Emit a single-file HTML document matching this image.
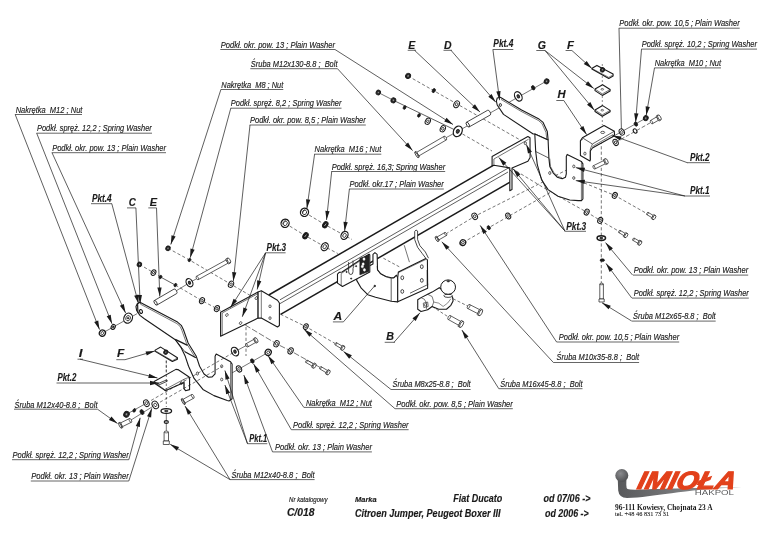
<!DOCTYPE html>
<html><head><meta charset="utf-8"><style>
html,body{margin:0;padding:0;background:#fff;overflow:hidden;}
svg{display:block;will-change:transform;}
</style></head><body>
<svg width="768" height="543" viewBox="0 0 768 543">
<rect width="768" height="543" fill="#fff"/>
<path d="M408 76L525.5 143" stroke="#1a1a1a" stroke-width="0.6" fill="none" stroke-linejoin="round" stroke-dasharray="3.2 2.2"/>
<path d="M393.4 100.3L457.8 131.3" stroke="#1a1a1a" stroke-width="0.7" fill="none" stroke-linejoin="round"/>
<path d="M378.3 92.5L393.4 100.3" stroke="#1a1a1a" stroke-width="0.6" fill="none" stroke-linejoin="round"/>
<path d="M457.8 131.3L492 151" stroke="#1a1a1a" stroke-width="0.6" fill="none" stroke-linejoin="round" stroke-dasharray="3.2 2.2"/>
<path d="M445.3 138.1L457.8 131.3" stroke="#1a1a1a" stroke-width="0.6" fill="none" stroke-linejoin="round"/>
<path d="M457.8 131.3L547 80.8" stroke="#1a1a1a" stroke-width="0.6" fill="none" stroke-linejoin="round"/>
<path d="M168 248.3L189.5 260L231 284.3L252 296.5" stroke="#1a1a1a" stroke-width="0.6" fill="none" stroke-linejoin="round" stroke-dasharray="3.2 2.2"/>
<path d="M189.5 282.7L197.5 278.2" stroke="#1a1a1a" stroke-width="0.6" fill="none" stroke-linejoin="round"/>
<path d="M139.4 264.4L153.5 272.6L160.5 277" stroke="#1a1a1a" stroke-width="0.6" fill="none" stroke-linejoin="round" stroke-dasharray="3.2 2.2"/>
<path d="M160.5 277L175.4 285.1" stroke="#1a1a1a" stroke-width="0.7" fill="none" stroke-linejoin="round"/>
<path d="M175.4 285.1L202 300.7L216.9 308.6L224 312.5" stroke="#1a1a1a" stroke-width="0.6" fill="none" stroke-linejoin="round" stroke-dasharray="3.2 2.2"/>
<path d="M175.4 291.3L189.5 282.7" stroke="#1a1a1a" stroke-width="0.6" fill="none" stroke-linejoin="round"/>
<path d="M245.2 325L276.5 343.8L290.6 350.9L322.7 368.9" stroke="#1a1a1a" stroke-width="0.6" fill="none" stroke-linejoin="round" stroke-dasharray="6 2"/>
<path d="M280.4 314.2L305.8 326.6L336.2 344.1" stroke="#1a1a1a" stroke-width="0.6" fill="none" stroke-linejoin="round" stroke-dasharray="3.2 2.2"/>
<path d="M246 300L246 356" stroke="#1a1a1a" stroke-width="0.6" fill="none" stroke-linejoin="round" stroke-dasharray="3.2 2.2"/>
<path d="M222 378.6L268.2 352.4" stroke="#1a1a1a" stroke-width="0.6" fill="none" stroke-linejoin="round"/>
<path d="M235 351.6L254.6 341" stroke="#1a1a1a" stroke-width="0.6" fill="none" stroke-linejoin="round"/>
<path d="M462.9 242.6L488.8 227.7L574 178.8" stroke="#1a1a1a" stroke-width="0.6" fill="none" stroke-linejoin="round" stroke-dasharray="3.2 2.2"/>
<path d="M445.7 234L474.7 216.3L574 166.3" stroke="#1a1a1a" stroke-width="0.6" fill="none" stroke-linejoin="round" stroke-dasharray="3.2 2.2"/>
<path d="M511.7 168.3L540.8 186L568 201.7L586.7 212.1L600.2 220.4L620 231.9" stroke="#1a1a1a" stroke-width="0.6" fill="none" stroke-linejoin="round" stroke-dasharray="3.2 2.2"/>
<path d="M574 178.8L614.8 195.4L649 214.8" stroke="#1a1a1a" stroke-width="0.6" fill="none" stroke-linejoin="round" stroke-dasharray="3.2 2.2"/>
<path d="M601.3 130L601.3 283" stroke="#1a1a1a" stroke-width="0.6" fill="none" stroke-linejoin="round" stroke-dasharray="3.2 2.2"/>
<path d="M602.3 64L602.3 125" stroke="#1a1a1a" stroke-width="0.5" fill="none" stroke-linejoin="round" stroke-dasharray="2 2"/>
<line x1="268.75" y1="295" x2="495" y2="164.41" stroke="#1a1a1a" stroke-width="1.5"/>
<line x1="280" y1="299.81" x2="508" y2="168.2" stroke="#1a1a1a" stroke-width="0.7"/>
<line x1="280" y1="303.61" x2="508" y2="172" stroke="#1a1a1a" stroke-width="0.7"/>
<line x1="280.6" y1="314.46" x2="510" y2="182.05" stroke="#1a1a1a" stroke-width="1.5"/>
<ellipse cx="408.1" cy="75.9" rx="2.43" ry="2.7" transform="rotate(29 408.1 75.9)" stroke="#1a1a1a" stroke-width="0.9" fill="#222"/>
<ellipse cx="408.1" cy="75.9" rx="1.08" ry="1.22" transform="rotate(29 408.1 75.9)" stroke="#1a1a1a" stroke-width="0.5" fill="#999"/>
<ellipse cx="433.8" cy="90.6" rx="1.5" ry="2.2" transform="rotate(29 433.8 90.6)" stroke="#1a1a1a" stroke-width="0.7" fill="#1a1a1a"/>
<ellipse cx="456.6" cy="104.3" rx="2.6" ry="3.6" transform="rotate(29 456.6 104.3)" stroke="#1a1a1a" stroke-width="1.0" fill="#fff"/>
<ellipse cx="456.6" cy="104.3" rx="1.17" ry="1.62" transform="rotate(29 456.6 104.3)" stroke="#1a1a1a" stroke-width="0.8" fill="#fff"/>
<ellipse cx="393.4" cy="100.3" rx="2.34" ry="2.6" transform="rotate(29 393.4 100.3)" stroke="#1a1a1a" stroke-width="0.9" fill="#222"/>
<ellipse cx="393.4" cy="100.3" rx="1.04" ry="1.17" transform="rotate(29 393.4 100.3)" stroke="#1a1a1a" stroke-width="0.5" fill="#999"/>
<ellipse cx="378.3" cy="92.5" rx="2.16" ry="2.4" transform="rotate(29 378.3 92.5)" stroke="#1a1a1a" stroke-width="0.9" fill="#222"/>
<ellipse cx="378.3" cy="92.5" rx="0.96" ry="1.08" transform="rotate(29 378.3 92.5)" stroke="#1a1a1a" stroke-width="0.5" fill="#999"/>
<ellipse cx="404.6" cy="107.5" rx="1.3" ry="1.9" transform="rotate(29 404.6 107.5)" stroke="#1a1a1a" stroke-width="0.7" fill="#1a1a1a"/>
<ellipse cx="419" cy="115.4" rx="1.3" ry="1.9" transform="rotate(29 419 115.4)" stroke="#1a1a1a" stroke-width="0.7" fill="#1a1a1a"/>
<ellipse cx="427.8" cy="121.3" rx="2.4" ry="3.3" transform="rotate(29 427.8 121.3)" stroke="#1a1a1a" stroke-width="1.0" fill="#fff"/>
<ellipse cx="427.8" cy="121.3" rx="1.08" ry="1.48" transform="rotate(29 427.8 121.3)" stroke="#1a1a1a" stroke-width="0.8" fill="#fff"/>
<ellipse cx="442.8" cy="128.8" rx="2.4" ry="3.3" transform="rotate(29 442.8 128.8)" stroke="#1a1a1a" stroke-width="1.0" fill="#fff"/>
<ellipse cx="442.8" cy="128.8" rx="1.08" ry="1.48" transform="rotate(29 442.8 128.8)" stroke="#1a1a1a" stroke-width="0.8" fill="#fff"/>
<ellipse cx="457.8" cy="131.3" rx="4.2" ry="5.6" transform="rotate(29 457.8 131.3)" stroke="#1a1a1a" stroke-width="1.2" fill="#fff"/>
<ellipse cx="457.8" cy="131.3" rx="1.47" ry="1.96" transform="rotate(29 457.8 131.3)" stroke="#1a1a1a" stroke-width="0.9" fill="#444"/>
<path d="M444.24 136.28L416.74 152.28L418.86 155.92L446.36 139.92Z" stroke="#1a1a1a" stroke-width="0.7" fill="#fff" stroke-linejoin="round"/>
<path d="M416.14 151.25L414.93 151.95L418.25 157.66L419.46 156.95Z" stroke="#1a1a1a" stroke-width="0.7" fill="#fff" stroke-linejoin="round"/>
<ellipse cx="416.59" cy="154.8" rx="0.84" ry="3.3" transform="rotate(149.81 416.59 154.8)" stroke="#1a1a1a" stroke-width="0.7" fill="#fff"/>
<ellipse cx="445.3" cy="138.1" rx="1.05" ry="2.1" transform="rotate(149.81 445.3 138.1)" stroke="#1a1a1a" stroke-width="0.6" fill="#fff"/>
<path d="M469.13 126.95 L490.33 114.95 A1.22 2.7 -29.51 0 0 487.67 110.25 L466.47 122.25 Z" fill="#fff" stroke="#1a1a1a" stroke-width="0.8"/>
<ellipse cx="467.8" cy="124.6" rx="1.22" ry="2.7" transform="rotate(-29.51 467.8 124.6)" stroke="#1a1a1a" stroke-width="0.8" fill="#fff"/>
<ellipse cx="518.3" cy="96.4" rx="3.4" ry="5" transform="rotate(-29 518.3 96.4)" stroke="#1a1a1a" stroke-width="1.2" fill="#fff"/>
<ellipse cx="518.3" cy="96.4" rx="1.19" ry="1.75" transform="rotate(-29 518.3 96.4)" stroke="#1a1a1a" stroke-width="0.9" fill="#444"/>
<ellipse cx="533.2" cy="87.8" rx="1.6" ry="2.3" transform="rotate(-29 533.2 87.8)" stroke="#1a1a1a" stroke-width="0.7" fill="#1a1a1a"/>
<ellipse cx="546.6" cy="81.3" rx="2.34" ry="2.6" transform="rotate(29 546.6 81.3)" stroke="#1a1a1a" stroke-width="0.9" fill="#222"/>
<ellipse cx="546.6" cy="81.3" rx="1.04" ry="1.17" transform="rotate(29 546.6 81.3)" stroke="#1a1a1a" stroke-width="0.5" fill="#999"/>
<ellipse cx="168" cy="248.3" rx="2.16" ry="2.4" transform="rotate(29 168 248.3)" stroke="#1a1a1a" stroke-width="0.9" fill="#222"/>
<ellipse cx="168" cy="248.3" rx="0.96" ry="1.08" transform="rotate(29 168 248.3)" stroke="#1a1a1a" stroke-width="0.5" fill="#999"/>
<ellipse cx="189.5" cy="260" rx="1.3" ry="1.8" transform="rotate(29 189.5 260)" stroke="#1a1a1a" stroke-width="0.7" fill="#1a1a1a"/>
<ellipse cx="231" cy="284.3" rx="2.4" ry="3.3" transform="rotate(29 231 284.3)" stroke="#1a1a1a" stroke-width="1.0" fill="#fff"/>
<ellipse cx="231" cy="284.3" rx="1.08" ry="1.48" transform="rotate(29 231 284.3)" stroke="#1a1a1a" stroke-width="0.8" fill="#fff"/>
<path d="M198.22 279.66L227.92 263.26L226.08 259.94L196.38 276.34Z" stroke="#1a1a1a" stroke-width="0.7" fill="#fff" stroke-linejoin="round"/>
<path d="M228.35 264.05L230.28 262.99L227.57 258.09L225.65 259.15Z" stroke="#1a1a1a" stroke-width="0.7" fill="#fff" stroke-linejoin="round"/>
<ellipse cx="228.93" cy="260.54" rx="1.32" ry="2.8" transform="rotate(-28.91 228.93 260.54)" stroke="#1a1a1a" stroke-width="0.7" fill="#fff"/>
<ellipse cx="197.3" cy="278" rx="0.95" ry="1.9" transform="rotate(-28.91 197.3 278)" stroke="#1a1a1a" stroke-width="0.6" fill="#fff"/>
<ellipse cx="189.5" cy="282.7" rx="3.1" ry="4.4" transform="rotate(-29 189.5 282.7)" stroke="#1a1a1a" stroke-width="1.2" fill="#fff"/>
<ellipse cx="189.5" cy="282.7" rx="1.08" ry="1.54" transform="rotate(-29 189.5 282.7)" stroke="#1a1a1a" stroke-width="0.9" fill="#444"/>
<ellipse cx="139.4" cy="264.4" rx="2.16" ry="2.4" transform="rotate(29 139.4 264.4)" stroke="#1a1a1a" stroke-width="0.9" fill="#222"/>
<ellipse cx="139.4" cy="264.4" rx="0.96" ry="1.08" transform="rotate(29 139.4 264.4)" stroke="#1a1a1a" stroke-width="0.5" fill="#999"/>
<ellipse cx="153.5" cy="272.6" rx="2.2" ry="3" transform="rotate(29 153.5 272.6)" stroke="#1a1a1a" stroke-width="1.0" fill="#fff"/>
<ellipse cx="153.5" cy="272.6" rx="0.99" ry="1.35" transform="rotate(29 153.5 272.6)" stroke="#1a1a1a" stroke-width="0.8" fill="#fff"/>
<ellipse cx="160.5" cy="277" rx="1.3" ry="1.8" transform="rotate(29 160.5 277)" stroke="#1a1a1a" stroke-width="0.7" fill="#1a1a1a"/>
<ellipse cx="175.4" cy="285.1" rx="1.3" ry="1.8" transform="rotate(29 175.4 285.1)" stroke="#1a1a1a" stroke-width="0.7" fill="#1a1a1a"/>
<ellipse cx="202" cy="300.7" rx="2.3" ry="3.2" transform="rotate(29 202 300.7)" stroke="#1a1a1a" stroke-width="1.0" fill="#fff"/>
<ellipse cx="202" cy="300.7" rx="1.03" ry="1.44" transform="rotate(29 202 300.7)" stroke="#1a1a1a" stroke-width="0.8" fill="#fff"/>
<ellipse cx="216.9" cy="308.6" rx="2.3" ry="3.2" transform="rotate(29 216.9 308.6)" stroke="#1a1a1a" stroke-width="1.0" fill="#fff"/>
<ellipse cx="216.9" cy="308.6" rx="1.03" ry="1.44" transform="rotate(29 216.9 308.6)" stroke="#1a1a1a" stroke-width="0.8" fill="#fff"/>
<path d="M156.91 305.05 L176.71 293.55 A1.17 2.6 -30.15 0 0 174.09 289.05 L154.29 300.55 Z" fill="#fff" stroke="#1a1a1a" stroke-width="0.8"/>
<ellipse cx="155.6" cy="302.8" rx="1.17" ry="2.6" transform="rotate(-30.15 155.6 302.8)" stroke="#1a1a1a" stroke-width="0.8" fill="#fff"/>
<ellipse cx="276.5" cy="343.8" rx="2.4" ry="3.3" transform="rotate(29 276.5 343.8)" stroke="#1a1a1a" stroke-width="1.0" fill="#fff"/>
<ellipse cx="276.5" cy="343.8" rx="1.08" ry="1.48" transform="rotate(29 276.5 343.8)" stroke="#1a1a1a" stroke-width="0.8" fill="#fff"/>
<ellipse cx="290.6" cy="350.9" rx="2.4" ry="3.3" transform="rotate(29 290.6 350.9)" stroke="#1a1a1a" stroke-width="1.0" fill="#fff"/>
<ellipse cx="290.6" cy="350.9" rx="1.08" ry="1.48" transform="rotate(29 290.6 350.9)" stroke="#1a1a1a" stroke-width="0.8" fill="#fff"/>
<path d="M305.84 362.42L312.14 366.12L313.46 363.88L307.16 360.18Z" stroke="#1a1a1a" stroke-width="0.7" fill="#fff" stroke-linejoin="round"/>
<path d="M311.53 367.16L313.26 368.17L315.79 363.86L314.07 362.84Z" stroke="#1a1a1a" stroke-width="0.7" fill="#fff" stroke-linejoin="round"/>
<ellipse cx="314.52" cy="366.01" rx="1.2" ry="2.5" transform="rotate(30.43 314.52 366.01)" stroke="#1a1a1a" stroke-width="0.7" fill="#fff"/>
<ellipse cx="306.5" cy="361.3" rx="0.65" ry="1.3" transform="rotate(30.43 306.5 361.3)" stroke="#1a1a1a" stroke-width="0.6" fill="#fff"/>
<path d="M319.83 368.91L326.13 372.71L327.47 370.49L321.17 366.69Z" stroke="#1a1a1a" stroke-width="0.7" fill="#fff" stroke-linejoin="round"/>
<path d="M325.51 373.74L327.22 374.77L329.8 370.49L328.09 369.46Z" stroke="#1a1a1a" stroke-width="0.7" fill="#fff" stroke-linejoin="round"/>
<ellipse cx="328.51" cy="372.63" rx="1.2" ry="2.5" transform="rotate(31.1 328.51 372.63)" stroke="#1a1a1a" stroke-width="0.7" fill="#fff"/>
<ellipse cx="320.5" cy="367.8" rx="0.65" ry="1.3" transform="rotate(31.1 320.5 367.8)" stroke="#1a1a1a" stroke-width="0.6" fill="#fff"/>
<ellipse cx="305.8" cy="326.6" rx="2.2" ry="3" transform="rotate(29 305.8 326.6)" stroke="#1a1a1a" stroke-width="1.0" fill="#fff"/>
<ellipse cx="305.8" cy="326.6" rx="0.99" ry="1.35" transform="rotate(29 305.8 326.6)" stroke="#1a1a1a" stroke-width="0.8" fill="#fff"/>
<path d="M335.13 344.92L340.83 348.32L342.17 346.08L336.47 342.68Z" stroke="#1a1a1a" stroke-width="0.7" fill="#fff" stroke-linejoin="round"/>
<path d="M340.27 349.26L341.99 350.29L344.45 346.16L342.73 345.14Z" stroke="#1a1a1a" stroke-width="0.7" fill="#fff" stroke-linejoin="round"/>
<ellipse cx="343.22" cy="348.22" rx="1.2" ry="2.4" transform="rotate(30.82 343.22 348.22)" stroke="#1a1a1a" stroke-width="0.7" fill="#fff"/>
<ellipse cx="335.8" cy="343.8" rx="0.65" ry="1.3" transform="rotate(30.82 335.8 343.8)" stroke="#1a1a1a" stroke-width="0.6" fill="#fff"/>
<path d="M247.68 346.97L255.48 342.57L253.72 339.43L245.92 343.83Z" stroke="#1a1a1a" stroke-width="0.7" fill="#fff" stroke-linejoin="round"/>
<path d="M255.88 343.26L257.62 342.28L255.06 337.75L253.32 338.74Z" stroke="#1a1a1a" stroke-width="0.7" fill="#fff" stroke-linejoin="round"/>
<ellipse cx="256.34" cy="340.02" rx="1.2" ry="2.6" transform="rotate(-29.43 256.34 340.02)" stroke="#1a1a1a" stroke-width="0.7" fill="#fff"/>
<ellipse cx="246.8" cy="345.4" rx="0.9" ry="1.8" transform="rotate(-29.43 246.8 345.4)" stroke="#1a1a1a" stroke-width="0.6" fill="#fff"/>
<ellipse cx="235" cy="351.6" rx="3.3" ry="4.6" transform="rotate(-29 235 351.6)" stroke="#1a1a1a" stroke-width="1.2" fill="#fff"/>
<ellipse cx="235" cy="351.6" rx="1.15" ry="1.61" transform="rotate(-29 235 351.6)" stroke="#1a1a1a" stroke-width="0.9" fill="#444"/>
<ellipse cx="239" cy="368.9" rx="2.4" ry="3.3" transform="rotate(-29 239 368.9)" stroke="#1a1a1a" stroke-width="1.0" fill="#fff"/>
<ellipse cx="239" cy="368.9" rx="1.08" ry="1.48" transform="rotate(-29 239 368.9)" stroke="#1a1a1a" stroke-width="0.8" fill="#fff"/>
<ellipse cx="252.3" cy="361" rx="1.6" ry="2.3" transform="rotate(-29 252.3 361)" stroke="#1a1a1a" stroke-width="0.7" fill="#1a1a1a"/>
<ellipse cx="268.2" cy="352.4" rx="3" ry="3.15" transform="rotate(30 268.2 352.4)" stroke="#1a1a1a" stroke-width="1.3" fill="#fff"/>
<ellipse cx="268.2" cy="352.4" rx="1.35" ry="1.5" transform="rotate(30 268.2 352.4)" stroke="#1a1a1a" stroke-width="0.8" fill="#fff"/>
<ellipse cx="474.7" cy="216.3" rx="2.6" ry="3.4" transform="rotate(-29 474.7 216.3)" stroke="#1a1a1a" stroke-width="1.0" fill="#fff"/>
<ellipse cx="474.7" cy="216.3" rx="1.17" ry="1.53" transform="rotate(-29 474.7 216.3)" stroke="#1a1a1a" stroke-width="0.8" fill="#fff"/>
<ellipse cx="462.9" cy="242.6" rx="2.8" ry="2.94" transform="rotate(30 462.9 242.6)" stroke="#1a1a1a" stroke-width="1.3" fill="#fff"/>
<ellipse cx="462.9" cy="242.6" rx="1.26" ry="1.4" transform="rotate(30 462.9 242.6)" stroke="#1a1a1a" stroke-width="0.8" fill="#fff"/>
<ellipse cx="508.2" cy="216" rx="2.3" ry="3.1" transform="rotate(-29 508.2 216)" stroke="#1a1a1a" stroke-width="1.0" fill="#fff"/>
<ellipse cx="508.2" cy="216" rx="1.03" ry="1.4" transform="rotate(-29 508.2 216)" stroke="#1a1a1a" stroke-width="0.8" fill="#fff"/>
<ellipse cx="488.8" cy="227.7" rx="1.5" ry="2.1" transform="rotate(-29 488.8 227.7)" stroke="#1a1a1a" stroke-width="0.7" fill="#1a1a1a"/>
<path d="M444.86 232.52L437.16 236.92L438.84 239.88L446.54 235.48Z" stroke="#1a1a1a" stroke-width="0.7" fill="#fff" stroke-linejoin="round"/>
<path d="M436.71 236.14L435.41 236.89L437.99 241.4L439.29 240.66Z" stroke="#1a1a1a" stroke-width="0.7" fill="#fff" stroke-linejoin="round"/>
<ellipse cx="436.7" cy="239.14" rx="0.9" ry="2.6" transform="rotate(150.26 436.7 239.14)" stroke="#1a1a1a" stroke-width="0.7" fill="#fff"/>
<ellipse cx="445.7" cy="234" rx="0.85" ry="1.7" transform="rotate(150.26 445.7 234)" stroke="#1a1a1a" stroke-width="0.6" fill="#fff"/>
<ellipse cx="586.7" cy="212.1" rx="2.3" ry="3.1" transform="rotate(29 586.7 212.1)" stroke="#1a1a1a" stroke-width="1.0" fill="#fff"/>
<ellipse cx="586.7" cy="212.1" rx="1.03" ry="1.4" transform="rotate(29 586.7 212.1)" stroke="#1a1a1a" stroke-width="0.8" fill="#fff"/>
<ellipse cx="600.2" cy="220.4" rx="2.3" ry="3.1" transform="rotate(29 600.2 220.4)" stroke="#1a1a1a" stroke-width="1.0" fill="#fff"/>
<ellipse cx="600.2" cy="220.4" rx="1.03" ry="1.4" transform="rotate(29 600.2 220.4)" stroke="#1a1a1a" stroke-width="0.8" fill="#fff"/>
<ellipse cx="614.8" cy="195.4" rx="2.3" ry="3.1" transform="rotate(29 614.8 195.4)" stroke="#1a1a1a" stroke-width="1.0" fill="#fff"/>
<ellipse cx="614.8" cy="195.4" rx="1.03" ry="1.4" transform="rotate(29 614.8 195.4)" stroke="#1a1a1a" stroke-width="0.8" fill="#fff"/>
<path d="M618.83 232.61L623.83 235.61L625.17 233.39L620.17 230.39Z" stroke="#1a1a1a" stroke-width="0.7" fill="#fff" stroke-linejoin="round"/>
<path d="M623.27 236.56L624.98 237.59L627.45 233.47L625.73 232.44Z" stroke="#1a1a1a" stroke-width="0.7" fill="#fff" stroke-linejoin="round"/>
<ellipse cx="626.21" cy="235.53" rx="1.2" ry="2.4" transform="rotate(30.96 626.21 235.53)" stroke="#1a1a1a" stroke-width="0.7" fill="#fff"/>
<ellipse cx="619.5" cy="231.5" rx="0.65" ry="1.3" transform="rotate(30.96 619.5 231.5)" stroke="#1a1a1a" stroke-width="0.6" fill="#fff"/>
<path d="M632.85 240.32L637.85 243.22L639.15 240.98L634.15 238.08Z" stroke="#1a1a1a" stroke-width="0.7" fill="#fff" stroke-linejoin="round"/>
<path d="M637.3 244.18L639.03 245.18L641.43 241.03L639.7 240.02Z" stroke="#1a1a1a" stroke-width="0.7" fill="#fff" stroke-linejoin="round"/>
<ellipse cx="640.23" cy="243.1" rx="1.2" ry="2.4" transform="rotate(30.11 640.23 243.1)" stroke="#1a1a1a" stroke-width="0.7" fill="#fff"/>
<ellipse cx="633.5" cy="239.2" rx="0.65" ry="1.3" transform="rotate(30.11 633.5 239.2)" stroke="#1a1a1a" stroke-width="0.6" fill="#fff"/>
<path d="M646.83 214.61L651.83 217.61L653.17 215.39L648.17 212.39Z" stroke="#1a1a1a" stroke-width="0.7" fill="#fff" stroke-linejoin="round"/>
<path d="M651.27 218.56L652.98 219.59L655.45 215.47L653.73 214.44Z" stroke="#1a1a1a" stroke-width="0.7" fill="#fff" stroke-linejoin="round"/>
<ellipse cx="654.21" cy="217.53" rx="1.2" ry="2.4" transform="rotate(30.96 654.21 217.53)" stroke="#1a1a1a" stroke-width="0.7" fill="#fff"/>
<ellipse cx="647.5" cy="213.5" rx="0.65" ry="1.3" transform="rotate(30.96 647.5 213.5)" stroke="#1a1a1a" stroke-width="0.6" fill="#fff"/>
<ellipse cx="601.3" cy="238.1" rx="4.2" ry="2.3" transform="rotate(0 601.3 238.1)" stroke="#1a1a1a" stroke-width="1.6" fill="#fff"/>
<ellipse cx="601.3" cy="238.1" rx="1.5" ry="0.8" transform="rotate(0 601.3 238.1)" stroke="#1a1a1a" stroke-width="0.9" fill="#444"/>
<ellipse cx="602.3" cy="260.2" rx="2.2" ry="1.4" transform="rotate(0 602.3 260.2)" stroke="#1a1a1a" stroke-width="0.6" fill="#1a1a1a"/>
<path d="M599.8 284L599.8 299L603.4 299L603.4 284Z" stroke="#1a1a1a" stroke-width="0.7" fill="#fff" stroke-linejoin="round"/>
<ellipse cx="601.6" cy="284" rx="1.8" ry="0.8" transform="rotate(0 601.6 284)" stroke="#1a1a1a" stroke-width="0.6" fill="#fff"/>
<path d="M599 299L599 302L604.2 302L604.2 299Z" stroke="#1a1a1a" stroke-width="0.7" fill="#fff" stroke-linejoin="round"/>
<path d="M258.1 291.9L220.6 312.2L220.6 336.3L258.1 318.1Z" stroke="#1a1a1a" stroke-width="1.1" fill="#fff" stroke-linejoin="round"/>
<path d="M258.1 293.5L222.2 313L222.2 336" stroke="#1a1a1a" stroke-width="0.6" fill="none" stroke-linejoin="round"/>
<path d="M258.1 291.9L261.3 290.8L277.5 300.3L279.4 303L279.4 325.5L277.5 327L261.3 318.1L258.1 318.1Z" stroke="#1a1a1a" stroke-width="1.1" fill="#fff" stroke-linejoin="round"/>
<path d="M261.3 290.8L261.3 318.1" stroke="#1a1a1a" stroke-width="0.6" fill="none" stroke-linejoin="round"/>
<ellipse cx="270" cy="306.3" rx="1.1" ry="1.4" transform="rotate(0 270 306.3)" stroke="#1a1a1a" stroke-width="0.7" fill="none"/>
<ellipse cx="270" cy="318.1" rx="1.1" ry="1.4" transform="rotate(0 270 318.1)" stroke="#1a1a1a" stroke-width="0.7" fill="none"/>
<ellipse cx="226.9" cy="315" rx="1.1" ry="1.5" transform="rotate(29 226.9 315)" stroke="#1a1a1a" stroke-width="0.7" fill="none"/>
<ellipse cx="240.6" cy="323.1" rx="1.1" ry="1.5" transform="rotate(29 240.6 323.1)" stroke="#1a1a1a" stroke-width="0.7" fill="none"/>
<ellipse cx="256.3" cy="298.1" rx="1.1" ry="1.5" transform="rotate(29 256.3 298.1)" stroke="#1a1a1a" stroke-width="0.7" fill="none"/>
<path d="M492.1 156.4L527.9 136.5L530 137.8L530.1 157.5L527.9 161.3L512 167.9L512 189.6L509.8 190.7L509.8 167.9L493.9 165.3L492.1 165.7Z" stroke="#1a1a1a" stroke-width="1.1" fill="#fff" stroke-linejoin="round"/>
<path d="M493.9 159L528.6 139.2" stroke="#1a1a1a" stroke-width="0.6" fill="none" stroke-linejoin="round"/>
<path d="M493.9 159L493.9 165.3" stroke="#1a1a1a" stroke-width="0.6" fill="none" stroke-linejoin="round"/>
<ellipse cx="525.3" cy="143.2" rx="1.1" ry="1.5" transform="rotate(0 525.3 143.2)" stroke="#1a1a1a" stroke-width="0.7" fill="none"/>
<path d="M497.2 98L500.3 97.2L521.6 110L539 119.1L543.1 122.4L547.3 131.6L548.1 139.9L534.8 134L533.2 134L503.5 114.4L497.2 105L496.4 101.1Z" stroke="#1a1a1a" stroke-width="1.1" fill="#fff" stroke-linejoin="round"/>
<path d="M501 99.4L521 111.3L538.3 120.4L542 123.6L546 132.5L546.8 139.3" stroke="#1a1a1a" stroke-width="0.6" fill="none" stroke-linejoin="round"/>
<ellipse cx="500.3" cy="105" rx="1.1" ry="1.5" transform="rotate(0 500.3 105)" stroke="#1a1a1a" stroke-width="0.9" fill="none"/>
<path d="M534.8 134L548.1 139.9L548.9 158.1L549.8 166.4L553.1 172.8L557.2 177.2L562.2 178.8L565.5 177.2L566.3 173.8L566.3 156.4L567.2 154.4L581.3 161.4L582.9 163.9L582.9 199L581.5 200.6L578.3 200.6L569.7 200L558 196.2L548.1 189.6L541.5 179.7L537.3 164.7L535.7 151.5Z" stroke="#1a1a1a" stroke-width="1.1" fill="#fff" stroke-linejoin="round"/>
<path d="M535.7 151.5L548.9 158.1" stroke="#1a1a1a" stroke-width="0.7" fill="none" stroke-linejoin="round"/>
<path d="M549.8 158.6L550.6 166.6L553.8 172.4L557.6 176.3L562 177.7" stroke="#1a1a1a" stroke-width="0.5" fill="none" stroke-linejoin="round"/>
<path d="M581.4 162.5L581.4 200" stroke="#1a1a1a" stroke-width="0.6" fill="none" stroke-linejoin="round"/>
<ellipse cx="573.8" cy="166.4" rx="1.1" ry="1.4" transform="rotate(0 573.8 166.4)" stroke="#1a1a1a" stroke-width="0.7" fill="none"/>
<ellipse cx="573.8" cy="178" rx="1.1" ry="1.4" transform="rotate(0 573.8 178)" stroke="#1a1a1a" stroke-width="0.7" fill="none"/>
<ellipse cx="549.8" cy="173" rx="1.1" ry="1.5" transform="rotate(0 549.8 173)" stroke="#1a1a1a" stroke-width="0.7" fill="none"/>
<path d="M582.4 137.8L604 125.4L614.3 131.2L614.5 134.5L613.1 136.6L592.4 148L590.3 151L590.3 160L589.9 161L580.4 155.6L580.4 140.7Z" stroke="#1a1a1a" stroke-width="1.1" fill="#fff" stroke-linejoin="round"/>
<path d="M580.4 140.7L583.5 138.5L592.4 144L614.3 131.2" stroke="#1a1a1a" stroke-width="0.7" fill="none" stroke-linejoin="round"/>
<path d="M592.4 144L590.3 149L590.3 160" stroke="#1a1a1a" stroke-width="0.6" fill="none" stroke-linejoin="round"/>
<path d="M592.4 146.5L613.1 134.5" stroke="#1a1a1a" stroke-width="0.6" fill="none" stroke-linejoin="round"/>
<ellipse cx="584.9" cy="153.6" rx="1.1" ry="1.5" transform="rotate(0 584.9 153.6)" stroke="#1a1a1a" stroke-width="0.7" fill="none"/>
<ellipse cx="602.7" cy="132.4" rx="2" ry="1.1" transform="rotate(0 602.7 132.4)" stroke="#1a1a1a" stroke-width="0.7" fill="none"/>
<path d="M137.29 303.7L139.94 302.15L177.51 322.04L181.27 325.36L183.48 329.78L188.12 343.04L196.3 356.3L199.61 366.24L204.03 373.98L208.45 377.29L212.21 376.85L215.08 373.98L215.08 356.3L216.19 354.09L230.55 361.82L232.1 364.03L232.1 398.73L229.01 400.94L227.24 400.5L213.98 395.64L202.93 389.45L194.09 378.4L188.56 366.24L185.25 356.3L181.27 347.9L175.3 339.72L144.36 318.73L139.94 315.41L136.63 310.33L135.97 306.57Z" stroke="#1a1a1a" stroke-width="1.1" fill="#fff" stroke-linejoin="round"/>
<path d="M140.39 304.14L176.85 323.59L180.17 326.46L181.93 330.44L186.57 343.48L194.75 356.74" stroke="#1a1a1a" stroke-width="0.6" fill="none" stroke-linejoin="round"/>
<path d="M175.2 339.4L187.6 345.4" stroke="#1a1a1a" stroke-width="1.2" fill="none" stroke-linejoin="round"/>
<path d="M184.9 351.8L195.9 357.8" stroke="#1a1a1a" stroke-width="1.2" fill="none" stroke-linejoin="round"/>
<path d="M175.2 339.4L184.9 351.8" stroke="#1a1a1a" stroke-width="0.8" fill="none" stroke-linejoin="round"/>
<path d="M230.55 362.93L230.55 399.39" stroke="#1a1a1a" stroke-width="0.6" fill="none" stroke-linejoin="round"/>
<path d="M215.08 356.3L230.55 364.03" stroke="#1a1a1a" stroke-width="0.0" fill="none" stroke-linejoin="round"/>
<ellipse cx="221.71" cy="366.24" rx="1.1" ry="1.4" transform="rotate(0 221.71 366.24)" stroke="#1a1a1a" stroke-width="0.7" fill="none"/>
<ellipse cx="221.71" cy="379.5" rx="1.1" ry="1.4" transform="rotate(0 221.71 379.5)" stroke="#1a1a1a" stroke-width="0.7" fill="none"/>
<ellipse cx="197.4" cy="373.54" rx="1.1" ry="1.6" transform="rotate(0 197.4 373.54)" stroke="#1a1a1a" stroke-width="0.7" fill="none"/>
<ellipse cx="141" cy="311.5" rx="1.4" ry="2" transform="rotate(-20 141 311.5)" stroke="#1a1a1a" stroke-width="1.1" fill="none"/>
<path d="M137.6 303.5L137.9 312.8" stroke="#1a1a1a" stroke-width="1.2" fill="none" stroke-linejoin="round"/>
<path d="M154.12 381.54L175.9 369.38L177.93 369.58L189.07 376.98L189.58 377.99L189.58 389.65L185.53 390.66L184.01 388.63L184.01 382.55L165.26 390.66L164.25 389.85L154.12 383.06Z" stroke="#1a1a1a" stroke-width="1.1" fill="#fff" stroke-linejoin="round"/>
<path d="M154.12 382.05L164.76 389.65L184.51 379.01L189.07 377.28" stroke="#1a1a1a" stroke-width="0.6" fill="none" stroke-linejoin="round"/>
<path d="M164.76 389.65L164.76 390.66" stroke="#1a1a1a" stroke-width="0.5" fill="none" stroke-linejoin="round"/>
<path d="M184.01 379.01L184.01 388.63" stroke="#1a1a1a" stroke-width="0.5" fill="none" stroke-linejoin="round"/>
<path d="M157.5 383.8 L166 380.2 Q167.6 379.8 167.3 381.2 L159 384.9 Q157 385.4 157.5 383.8 Z" stroke="#1a1a1a" stroke-width="0.8" fill="#fff" stroke-linejoin="round" stroke-linecap="round"/>
<ellipse cx="181.47" cy="383.06" rx="1" ry="1.4" transform="rotate(0 181.47 383.06)" stroke="#1a1a1a" stroke-width="0.7" fill="none"/>
<path d="M155.13 350.13L160.7 347.09L177.42 357.73L177.42 359.25L172.36 361.48L155.13 351.35Z" stroke="#1a1a1a" stroke-width="1.1" fill="#fff" stroke-linejoin="round"/>
<path d="M155.13 350.64L172.36 360.77L177.42 358.03" stroke="#1a1a1a" stroke-width="0.6" fill="none" stroke-linejoin="round"/>
<ellipse cx="165.77" cy="352.16" rx="1.98" ry="2.2" transform="rotate(29 165.77 352.16)" stroke="#1a1a1a" stroke-width="0.9" fill="#222"/>
<ellipse cx="165.77" cy="352.16" rx="0.88" ry="0.99" transform="rotate(29 165.77 352.16)" stroke="#1a1a1a" stroke-width="0.5" fill="#999"/>
<path d="M166.28 360.26L166.28 373.43" stroke="#1a1a1a" stroke-width="0.6" fill="none" stroke-linejoin="round" stroke-dasharray="2.5 2"/>
<path d="M304.5 212.3L325.3 224.8L344.5 235.4L352 239.5" stroke="#1a1a1a" stroke-width="0.6" fill="none" stroke-linejoin="round" stroke-dasharray="3.2 2.2"/>
<path d="M285.1 223.3L305.5 235.8L324.7 246.7L337.8 253.5" stroke="#1a1a1a" stroke-width="0.6" fill="none" stroke-linejoin="round" stroke-dasharray="3.2 2.2"/>
<ellipse cx="304.5" cy="212.3" rx="3.99" ry="4.2" transform="rotate(30 304.5 212.3)" stroke="#1a1a1a" stroke-width="1.3" fill="#fff"/>
<ellipse cx="304.5" cy="212.3" rx="2.1" ry="2.31" transform="rotate(30 304.5 212.3)" stroke="#1a1a1a" stroke-width="0.8" fill="#fff"/>
<line x1="302.4" y1="213.14" x2="304.92" y2="209.36" stroke="#1a1a1a" stroke-width="0.6"/>
<ellipse cx="325.3" cy="224.8" rx="2.4" ry="3.4" transform="rotate(32 325.3 224.8)" stroke="#1a1a1a" stroke-width="0.9" fill="#1a1a1a"/>
<line x1="324.4" y1="226" x2="326.2" y2="223.6" stroke="#fff" stroke-width="0.6"/>
<ellipse cx="344.5" cy="235.4" rx="3.3" ry="4.2" transform="rotate(32 344.5 235.4)" stroke="#1a1a1a" stroke-width="1.2" fill="#fff"/>
<ellipse cx="344.5" cy="235.4" rx="1.6" ry="2.1" transform="rotate(32 344.5 235.4)" stroke="#1a1a1a" stroke-width="0.8" fill="#fff"/>
<ellipse cx="285.1" cy="223.3" rx="3.99" ry="4.2" transform="rotate(30 285.1 223.3)" stroke="#1a1a1a" stroke-width="1.3" fill="#fff"/>
<ellipse cx="285.1" cy="223.3" rx="2.1" ry="2.31" transform="rotate(30 285.1 223.3)" stroke="#1a1a1a" stroke-width="0.8" fill="#fff"/>
<line x1="283" y1="224.14" x2="285.52" y2="220.36" stroke="#1a1a1a" stroke-width="0.6"/>
<ellipse cx="305.5" cy="235.8" rx="2.4" ry="3.4" transform="rotate(32 305.5 235.8)" stroke="#1a1a1a" stroke-width="0.9" fill="#1a1a1a"/>
<line x1="304.6" y1="237" x2="306.4" y2="234.6" stroke="#fff" stroke-width="0.6"/>
<ellipse cx="324.7" cy="246.7" rx="3.3" ry="4.2" transform="rotate(32 324.7 246.7)" stroke="#1a1a1a" stroke-width="1.2" fill="#fff"/>
<ellipse cx="324.7" cy="246.7" rx="1.6" ry="2.1" transform="rotate(32 324.7 246.7)" stroke="#1a1a1a" stroke-width="0.8" fill="#fff"/>
<path d="M592.5 67.9L596.9 65.4L613.1 74.1L613.1 76L608.75 78.5L591.9 69.1Z" stroke="#1a1a1a" stroke-width="1.1" fill="#fff" stroke-linejoin="round"/>
<path d="M592 68.5L608.75 77.3L613 74.8" stroke="#1a1a1a" stroke-width="0.5" fill="none" stroke-linejoin="round"/>
<ellipse cx="602.5" cy="69.8" rx="2.07" ry="2.3" transform="rotate(29 602.5 69.8)" stroke="#1a1a1a" stroke-width="0.9" fill="#222"/>
<ellipse cx="602.5" cy="69.8" rx="0.92" ry="1.03" transform="rotate(29 602.5 69.8)" stroke="#1a1a1a" stroke-width="0.5" fill="#999"/>
<path d="M595 89.1L602.6 84.7L610.1 89.5L610.1 90.9L602.3 95.4L595 90.6Z" stroke="#1a1a1a" stroke-width="1.1" fill="#fff" stroke-linejoin="round"/>
<path d="M595 89.1L602.3 93.9L610.1 89.5" stroke="#1a1a1a" stroke-width="0.6" fill="none" stroke-linejoin="round"/>
<ellipse cx="602.3" cy="89.3" rx="1.3" ry="0.8" transform="rotate(0 602.3 89.3)" stroke="#1a1a1a" stroke-width="0.6" fill="none"/>
<path d="M595 110L602.6 105.6L610.1 110.4L610.1 111.8L602.3 116.3L595 111.5Z" stroke="#1a1a1a" stroke-width="1.1" fill="#fff" stroke-linejoin="round"/>
<path d="M595 110L602.3 114.8L610.1 110.4" stroke="#1a1a1a" stroke-width="0.6" fill="none" stroke-linejoin="round"/>
<ellipse cx="602.3" cy="110.2" rx="1.3" ry="0.8" transform="rotate(0 602.3 110.2)" stroke="#1a1a1a" stroke-width="0.6" fill="none"/>
<path d="M612 137L645.8 118.2" stroke="#1a1a1a" stroke-width="0.6" fill="none" stroke-linejoin="round"/>
<path d="M615.6 142.4L651.5 122.1" stroke="#1a1a1a" stroke-width="0.6" fill="none" stroke-linejoin="round" stroke-dasharray="4 2"/>
<ellipse cx="621.8" cy="132" rx="2.4" ry="3.3" transform="rotate(-29 621.8 132)" stroke="#1a1a1a" stroke-width="1.0" fill="#fff"/>
<ellipse cx="621.8" cy="132" rx="1.08" ry="1.48" transform="rotate(-29 621.8 132)" stroke="#1a1a1a" stroke-width="0.8" fill="#fff"/>
<ellipse cx="635.9" cy="124.1" rx="1.6" ry="2.2" transform="rotate(-29 635.9 124.1)" stroke="#1a1a1a" stroke-width="0.7" fill="#1a1a1a"/>
<ellipse cx="645.8" cy="118.2" rx="2.34" ry="2.6" transform="rotate(29 645.8 118.2)" stroke="#1a1a1a" stroke-width="0.9" fill="#222"/>
<ellipse cx="645.8" cy="118.2" rx="1.04" ry="1.17" transform="rotate(29 645.8 118.2)" stroke="#1a1a1a" stroke-width="0.5" fill="#999"/>
<ellipse cx="615.6" cy="142.4" rx="2.4" ry="3.3" transform="rotate(-29 615.6 142.4)" stroke="#1a1a1a" stroke-width="1.0" fill="#fff"/>
<ellipse cx="615.6" cy="142.4" rx="1.08" ry="1.48" transform="rotate(-29 615.6 142.4)" stroke="#1a1a1a" stroke-width="0.8" fill="#fff"/>
<ellipse cx="635.1" cy="131" rx="1.7" ry="2.3" transform="rotate(-29 635.1 131)" stroke="#1a1a1a" stroke-width="1.1" fill="#fff"/>
<path d="M652.46 123.74L658.46 120.24L656.54 116.96L650.54 120.46Z" stroke="#1a1a1a" stroke-width="0.7" fill="#fff" stroke-linejoin="round"/>
<path d="M658.96 121.1L660.86 120L657.94 114.99L656.04 116.1Z" stroke="#1a1a1a" stroke-width="0.7" fill="#fff" stroke-linejoin="round"/>
<ellipse cx="659.4" cy="117.49" rx="1.32" ry="2.9" transform="rotate(-30.26 659.4 117.49)" stroke="#1a1a1a" stroke-width="0.7" fill="#fff"/>
<ellipse cx="651.5" cy="122.1" rx="0.95" ry="1.9" transform="rotate(-30.26 651.5 122.1)" stroke="#1a1a1a" stroke-width="0.6" fill="#fff"/>
<path d="M594.8 169.01L605.3 163.81L603.7 160.59L593.2 165.79Z" stroke="#1a1a1a" stroke-width="0.7" fill="#fff" stroke-linejoin="round"/>
<path d="M605.74 164.71L607.71 163.73L605.23 158.71L603.26 159.69Z" stroke="#1a1a1a" stroke-width="0.7" fill="#fff" stroke-linejoin="round"/>
<ellipse cx="606.47" cy="161.22" rx="1.32" ry="2.8" transform="rotate(-26.35 606.47 161.22)" stroke="#1a1a1a" stroke-width="0.7" fill="#fff"/>
<ellipse cx="594" cy="167.4" rx="0.9" ry="1.8" transform="rotate(-26.35 594 167.4)" stroke="#1a1a1a" stroke-width="0.6" fill="#fff"/>
<path d="M126.5 414.3L146.4 403.2" stroke="#1a1a1a" stroke-width="0.6" fill="none" stroke-linejoin="round"/>
<path d="M146.4 403.2L235 351.6" stroke="#1a1a1a" stroke-width="0.6" fill="none" stroke-linejoin="round" stroke-dasharray="3.2 2.2"/>
<path d="M130.4 420.4L155.3 404.9" stroke="#1a1a1a" stroke-width="0.6" fill="none" stroke-linejoin="round"/>
<path d="M155.3 404.9L222 366.5" stroke="#1a1a1a" stroke-width="0.6" fill="none" stroke-linejoin="round" stroke-dasharray="3.2 2.2"/>
<path d="M166.3 361L166.3 407" stroke="#1a1a1a" stroke-width="0.6" fill="none" stroke-linejoin="round" stroke-dasharray="2.5 2"/>
<ellipse cx="126.5" cy="414.3" rx="2.7" ry="3" transform="rotate(29 126.5 414.3)" stroke="#1a1a1a" stroke-width="0.9" fill="#222"/>
<ellipse cx="126.5" cy="414.3" rx="1.2" ry="1.35" transform="rotate(29 126.5 414.3)" stroke="#1a1a1a" stroke-width="0.5" fill="#999"/>
<ellipse cx="134.3" cy="410.4" rx="1.3" ry="1.9" transform="rotate(29 134.3 410.4)" stroke="#1a1a1a" stroke-width="0.7" fill="#1a1a1a"/>
<ellipse cx="146.4" cy="403.2" rx="2.5" ry="3.5" transform="rotate(-29 146.4 403.2)" stroke="#1a1a1a" stroke-width="1.0" fill="#fff"/>
<ellipse cx="146.4" cy="403.2" rx="1.12" ry="1.57" transform="rotate(-29 146.4 403.2)" stroke="#1a1a1a" stroke-width="0.8" fill="#fff"/>
<path d="M129.47 418.52L120.57 422.92L122.43 426.68L131.33 422.28Z" stroke="#1a1a1a" stroke-width="0.7" fill="#fff" stroke-linejoin="round"/>
<path d="M120.17 422.11L118.83 422.78L121.48 428.15L122.83 427.49Z" stroke="#1a1a1a" stroke-width="0.7" fill="#fff" stroke-linejoin="round"/>
<ellipse cx="120.16" cy="425.46" rx="0.9" ry="3" transform="rotate(153.69 120.16 425.46)" stroke="#1a1a1a" stroke-width="0.7" fill="#fff"/>
<ellipse cx="130.4" cy="420.4" rx="1.05" ry="2.1" transform="rotate(153.69 130.4 420.4)" stroke="#1a1a1a" stroke-width="0.6" fill="#fff"/>
<ellipse cx="142" cy="412.1" rx="1.8" ry="2.6" transform="rotate(-29 142 412.1)" stroke="#1a1a1a" stroke-width="0.7" fill="#1a1a1a"/>
<ellipse cx="155.3" cy="404.9" rx="3" ry="4" transform="rotate(-29 155.3 404.9)" stroke="#1a1a1a" stroke-width="1.0" fill="#fff"/>
<ellipse cx="155.3" cy="404.9" rx="1.35" ry="1.8" transform="rotate(-29 155.3 404.9)" stroke="#1a1a1a" stroke-width="0.8" fill="#fff"/>
<ellipse cx="166.3" cy="411" rx="5.3" ry="2.4" transform="rotate(0 166.3 411)" stroke="#1a1a1a" stroke-width="1.3" fill="#fff"/>
<ellipse cx="166.3" cy="411" rx="1.8" ry="0.8" transform="rotate(0 166.3 411)" stroke="#1a1a1a" stroke-width="0.8" fill="#444"/>
<line x1="166.3" y1="413.4" x2="166.3" y2="431" stroke="#1a1a1a" stroke-width="0.6"/>
<ellipse cx="166.3" cy="422" rx="2.1" ry="1.4" transform="rotate(0 166.3 422)" stroke="#1a1a1a" stroke-width="1.1" fill="#fff"/>
<line x1="165" y1="422" x2="167.6" y2="422" stroke="#1a1a1a" stroke-width="0.6"/>
<path d="M164.1 432L164.1 441L168.5 441L168.5 432Z" stroke="#1a1a1a" stroke-width="0.7" fill="#fff" stroke-linejoin="round"/>
<ellipse cx="166.3" cy="432" rx="2.2" ry="0.9" transform="rotate(0 166.3 432)" stroke="#1a1a1a" stroke-width="0.6" fill="#fff"/>
<path d="M163.3 441L163.3 444.5L169.3 444.5L169.3 441Z" stroke="#1a1a1a" stroke-width="0.7" fill="#fff" stroke-linejoin="round"/>
<path d="M191.78 394.47L182.98 399.37L185.02 403.03L193.82 398.13Z" stroke="#1a1a1a" stroke-width="0.7" fill="#fff" stroke-linejoin="round"/>
<path d="M182.44 398.4L181.39 398.99L184.51 404.58L185.56 404Z" stroke="#1a1a1a" stroke-width="0.7" fill="#fff" stroke-linejoin="round"/>
<ellipse cx="182.95" cy="401.78" rx="0.72" ry="3.2" transform="rotate(150.89 182.95 401.78)" stroke="#1a1a1a" stroke-width="0.7" fill="#fff"/>
<ellipse cx="192.8" cy="396.3" rx="1.05" ry="2.1" transform="rotate(150.89 192.8 396.3)" stroke="#1a1a1a" stroke-width="0.6" fill="#fff"/>
<path d="M356.69 280.36L361.25 288.18L367.76 294.69L375.57 297.29L391.2 301.2L397.71 301.85L397.71 277.76L396.41 275.16L393.8 277.76L391.2 277.76L385.99 276.46L380.78 273.85L377.53 269.95L377.14 254.32L374.92 252.63L372.97 254.32L372.97 264.09L369.06 266.04L356.69 272.55Z" stroke="#1a1a1a" stroke-width="1.1" fill="#fff" stroke-linejoin="round"/>
<path d="M391.2 278.41L391.2 301.2" stroke="#1a1a1a" stroke-width="0.7" fill="none" stroke-linejoin="round"/>
<path d="M377.14 266.04L377.53 269.95L380.78 274.11L385.99 276.85L391.2 278.41L393.8 278.02L395.76 276.46" stroke="#1a1a1a" stroke-width="0.5" fill="none" stroke-linejoin="round"/>
<path d="M397.71 277.76L398.36 271.9L426.35 258.23L427.4 259.53L427.66 288.18L397.71 301.85Z" stroke="#1a1a1a" stroke-width="1.1" fill="#fff" stroke-linejoin="round"/>
<path d="M398.62 272.55L426.61 259.14" stroke="#1a1a1a" stroke-width="0.5" fill="none" stroke-linejoin="round"/>
<ellipse cx="402.27" cy="277.76" rx="1.4" ry="1.9" transform="rotate(0 402.27 277.76)" stroke="#1a1a1a" stroke-width="0.8" fill="none"/>
<ellipse cx="421.8" cy="266.69" rx="1.4" ry="1.9" transform="rotate(0 421.8 266.69)" stroke="#1a1a1a" stroke-width="0.8" fill="none"/>
<ellipse cx="402.27" cy="291.43" rx="1.4" ry="1.9" transform="rotate(0 402.27 291.43)" stroke="#1a1a1a" stroke-width="0.8" fill="none"/>
<ellipse cx="421.8" cy="280.36" rx="1.4" ry="1.9" transform="rotate(0 421.8 280.36)" stroke="#1a1a1a" stroke-width="0.8" fill="none"/>
<path d="M404.22 245.21L409.43 262.14" stroke="#1a1a1a" stroke-width="0.6" fill="none" stroke-linejoin="round"/>
<path d="M427 259.8L422.3 253.6L417.6 247.3L414.7 239.5L414.7 231.5L416 230L417.6 231L417.6 239.5L419.9 245.7L425.4 252L428.5 258.2" stroke="#1a1a1a" stroke-width="0.8" fill="#fff" stroke-linejoin="round"/>
<path d="M337.49 274.03L339.14 272.37L342.04 271.96L368.97 254.14L369.8 254.97L369.8 271.96L342.46 286.45L337.49 283.14Z" stroke="#1a1a1a" stroke-width="1.1" fill="#fff" stroke-linejoin="round"/>
<path d="M341.21 273.61L341.21 285.63" stroke="#1a1a1a" stroke-width="0.6" fill="none" stroke-linejoin="round"/>
<path d="M341.21 273.61L368.97 254.97" stroke="#1a1a1a" stroke-width="0.5" fill="none" stroke-linejoin="round"/>
<path d="M348.6 262.5 L348.6 271.5 Q348.6 274.5 350.8 274.5 Q353 274.5 353 271.5 L353 268.5 Q354.3 266.5 353 264.5 L353 261" stroke="#1a1a1a" stroke-width="0.8" fill="none" stroke-linejoin="round" stroke-linecap="round"/>
<path d="M359.86 258.29L368.97 254.97L368.97 271.54L359.86 274.86Z" stroke="#1a1a1a" stroke-width="0.6" fill="#222" stroke-linejoin="round"/>
<ellipse cx="364" cy="259.11" rx="1.1" ry="1.3" transform="rotate(0 364 259.11)" stroke="#fff" stroke-width="0.4" fill="#fff"/>
<ellipse cx="363.17" cy="264.08" rx="1.1" ry="1.3" transform="rotate(0 363.17 264.08)" stroke="#fff" stroke-width="0.4" fill="#fff"/>
<ellipse cx="364.41" cy="269.88" rx="1.1" ry="1.3" transform="rotate(0 364.41 269.88)" stroke="#fff" stroke-width="0.4" fill="#fff"/>
<ellipse cx="362.34" cy="266.57" rx="1.1" ry="1.3" transform="rotate(0 362.34 266.57)" stroke="#fff" stroke-width="0.4" fill="#fff"/>
<ellipse cx="356.13" cy="266.16" rx="0.6" ry="0.6" transform="rotate(0 356.13 266.16)" stroke="#1a1a1a" stroke-width="0.7" fill="#1a1a1a"/>
<ellipse cx="346.6" cy="271.96" rx="0.6" ry="0.6" transform="rotate(0 346.6 271.96)" stroke="#1a1a1a" stroke-width="0.7" fill="#1a1a1a"/>
<ellipse cx="351.16" cy="278.58" rx="0.6" ry="0.6" transform="rotate(0 351.16 278.58)" stroke="#1a1a1a" stroke-width="0.7" fill="#1a1a1a"/>
<ellipse cx="374.8" cy="286" rx="0.8" ry="0.8" transform="rotate(0 374.8 286)" stroke="#1a1a1a" stroke-width="0.7" fill="#1a1a1a"/>
<path d="M383.39 258.23L400.31 267.34" stroke="#1a1a1a" stroke-width="0.6" fill="none" stroke-linejoin="round" stroke-dasharray="3 2"/>
<path d="M453.09 298.73L468.56 306.46" stroke="#1a1a1a" stroke-width="0.6" fill="none" stroke-linejoin="round" stroke-dasharray="3 2"/>
<path d="M432.1 306.46L449.23 317.51" stroke="#1a1a1a" stroke-width="0.6" fill="none" stroke-linejoin="round" stroke-dasharray="3 2"/>
<path d="M417.73 299.83L421.05 297.62L427.68 294.31L432.1 292.1L439.28 287.68L452.54 297.07L453.09 300.94L450.88 305.36L446.46 309.23L438.73 309.23L432.1 306.46L427.68 309.78L421.05 311.44L417.73 309.23Z" stroke="#1a1a1a" stroke-width="1.1" fill="#fff" stroke-linejoin="round"/>
<path d="M421.05 297.62L424.36 299.28L426.57 303.15L426.57 308.67L427.68 309.78" stroke="#1a1a1a" stroke-width="0.6" fill="none" stroke-linejoin="round"/>
<path d="M427.68 294.31L432.1 296.52L433.76 302.04L432.1 306.46" stroke="#1a1a1a" stroke-width="0.6" fill="none" stroke-linejoin="round"/>
<path d="M433.76 302.04L438.73 303.15L443.15 306.46L447.57 303.15L450.88 298.73" stroke="#1a1a1a" stroke-width="0.5" fill="none" stroke-linejoin="round"/>
<path d="M423.26 303.15L427.68 302.04L428.23 306.46L423.81 307.57Z" stroke="#1a1a1a" stroke-width="0.6" fill="none" stroke-linejoin="round"/>
<ellipse cx="425.47" cy="304.81" rx="1.2" ry="1.2" transform="rotate(0 425.47 304.81)" stroke="#1a1a1a" stroke-width="0.6" fill="none"/>
<ellipse cx="448.1" cy="295.8" rx="4.3" ry="1.6" transform="rotate(0 448.1 295.8)" stroke="#1a1a1a" stroke-width="0.8" fill="#fff"/>
<ellipse cx="448.1" cy="287.1" rx="7.4" ry="7.2" transform="rotate(0 448.1 287.1)" stroke="#1a1a1a" stroke-width="1" fill="#fff"/>
<ellipse cx="448.3" cy="281.3" rx="1.3" ry="0.7" transform="rotate(0 448.3 281.3)" stroke="#1a1a1a" stroke-width="0.5" fill="#333"/>
<path d="M467.6 308.46L477.6 313.56L479.6 309.64L469.6 304.54Z" stroke="#1a1a1a" stroke-width="0.7" fill="#fff" stroke-linejoin="round"/>
<path d="M477.06 314.63L479.1 315.67L482.19 309.62L480.14 308.57Z" stroke="#1a1a1a" stroke-width="0.7" fill="#fff" stroke-linejoin="round"/>
<ellipse cx="480.65" cy="312.64" rx="1.38" ry="3.4" transform="rotate(27.02 480.65 312.64)" stroke="#1a1a1a" stroke-width="0.7" fill="#fff"/>
<ellipse cx="468.6" cy="306.5" rx="1.1" ry="2.2" transform="rotate(27.02 468.6 306.5)" stroke="#1a1a1a" stroke-width="0.6" fill="#fff"/>
<path d="M448.13 319.42L458.53 325.22L460.67 321.38L450.27 315.58Z" stroke="#1a1a1a" stroke-width="0.7" fill="#fff" stroke-linejoin="round"/>
<path d="M457.94 326.27L459.95 327.39L463.26 321.45L461.26 320.33Z" stroke="#1a1a1a" stroke-width="0.7" fill="#fff" stroke-linejoin="round"/>
<ellipse cx="461.61" cy="324.42" rx="1.38" ry="3.4" transform="rotate(29.15 461.61 324.42)" stroke="#1a1a1a" stroke-width="0.7" fill="#fff"/>
<ellipse cx="449.2" cy="317.5" rx="1.1" ry="2.2" transform="rotate(29.15 449.2 317.5)" stroke="#1a1a1a" stroke-width="0.6" fill="#fff"/>
<path d="M410 293.2L428.23 284.36" stroke="#1a1a1a" stroke-width="0.7" fill="none" stroke-linejoin="round"/>
<path d="M427.13 270L427.13 284.36" stroke="#1a1a1a" stroke-width="0.7" fill="none" stroke-linejoin="round"/>
<path d="M102.4 333.1L137.2 313.6" stroke="#1a1a1a" stroke-width="0.6" fill="none" stroke-linejoin="round"/>
<ellipse cx="102.4" cy="333.1" rx="3" ry="3.15" transform="rotate(30 102.4 333.1)" stroke="#1a1a1a" stroke-width="1.3" fill="#fff"/>
<ellipse cx="102.4" cy="333.1" rx="1.35" ry="1.5" transform="rotate(30 102.4 333.1)" stroke="#1a1a1a" stroke-width="0.8" fill="#fff"/>
<ellipse cx="113.2" cy="326.9" rx="1.9" ry="2.6" transform="rotate(30 113.2 326.9)" stroke="#1a1a1a" stroke-width="1.1" fill="#fff"/>
<ellipse cx="113.2" cy="326.9" rx="0.7" ry="1.1" transform="rotate(30 113.2 326.9)" stroke="#1a1a1a" stroke-width="0.6" fill="#1a1a1a"/>
<ellipse cx="128.1" cy="318.2" rx="4.2" ry="5.2" transform="rotate(25 128.1 318.2)" stroke="#1a1a1a" stroke-width="1.2" fill="#fff"/>
<ellipse cx="128.1" cy="318.2" rx="2.2" ry="2.7" transform="rotate(25 128.1 318.2)" stroke="#1a1a1a" stroke-width="0.8" fill="#fff"/>
<ellipse cx="128.1" cy="318.2" rx="0.8" ry="0.9" transform="rotate(0 128.1 318.2)" stroke="#1a1a1a" stroke-width="0.5" fill="#1a1a1a"/>
<text x="15.7" y="112.5" font-family="&quot;Liberation Sans&quot;, sans-serif" font-size="9.3" font-weight="normal" font-style="italic" fill="#1a1a1a" stroke="#1a1a1a" stroke-width="0.15" textLength="66.7" lengthAdjust="spacingAndGlyphs">Nakrętka&#160; M12 ; Nut</text>
<line x1="15" y1="114.5" x2="82" y2="114.5" stroke="#555" stroke-width="0.9"/>
<line x1="15.2" y1="114.5" x2="99.5" y2="329.6" stroke="#1a1a1a" stroke-width="0.7"/>
<path d="M99.5 329.6L94.21 322.01L98.22 320.44Z" fill="#1a1a1a"/>
<text x="37" y="131.2" font-family="&quot;Liberation Sans&quot;, sans-serif" font-size="9.3" font-weight="normal" font-style="italic" fill="#1a1a1a" stroke="#1a1a1a" stroke-width="0.15" textLength="114.8" lengthAdjust="spacingAndGlyphs">Podkł. spręż. 12,2 ; Spring Washer</text>
<line x1="36.5" y1="133.2" x2="152" y2="133.2" stroke="#555" stroke-width="0.9"/>
<line x1="36.7" y1="133.2" x2="112" y2="323.8" stroke="#1a1a1a" stroke-width="0.7"/>
<path d="M112 323.8L106.69 316.22L110.69 314.64Z" fill="#1a1a1a"/>
<text x="52.2" y="150.8" font-family="&quot;Liberation Sans&quot;, sans-serif" font-size="9.3" font-weight="normal" font-style="italic" fill="#1a1a1a" stroke="#1a1a1a" stroke-width="0.15" textLength="113.8" lengthAdjust="spacingAndGlyphs">Podkł. okr. pow. 13 ; Plain Washer</text>
<line x1="51.8" y1="152.7" x2="166" y2="152.7" stroke="#555" stroke-width="0.9"/>
<line x1="52" y1="152.7" x2="125.6" y2="313" stroke="#1a1a1a" stroke-width="0.7"/>
<path d="M125.6 313L119.89 305.72L123.8 303.92Z" fill="#1a1a1a"/>
<text x="92" y="201.8" font-family="&quot;Liberation Sans&quot;, sans-serif" font-size="10.8" font-weight="bold" font-style="italic" fill="#1a1a1a" stroke="#1a1a1a" stroke-width="0.15" textLength="19.7" lengthAdjust="spacingAndGlyphs">Pkt.4</text>
<line x1="91" y1="203.7" x2="112" y2="203.7" stroke="#555" stroke-width="0.9"/>
<line x1="111.8" y1="203.7" x2="138.6" y2="303.8" stroke="#1a1a1a" stroke-width="0.7"/>
<path d="M138.6 303.8L134.2 295.66L138.35 294.55Z" fill="#1a1a1a"/>
<text x="128.8" y="205.7" font-family="&quot;Liberation Sans&quot;, sans-serif" font-size="10.8" font-weight="bold" font-style="italic" fill="#1a1a1a" stroke="#1a1a1a" stroke-width="0.15" textLength="7.1" lengthAdjust="spacingAndGlyphs">C</text>
<line x1="127" y1="207.9" x2="136" y2="207.9" stroke="#555" stroke-width="0.9"/>
<line x1="135.9" y1="207.9" x2="140.2" y2="304" stroke="#1a1a1a" stroke-width="0.7"/>
<path d="M140.2 304L137.65 295.11L141.95 294.91Z" fill="#1a1a1a"/>
<text x="149.8" y="205.7" font-family="&quot;Liberation Sans&quot;, sans-serif" font-size="10.8" font-weight="bold" font-style="italic" fill="#1a1a1a" stroke="#1a1a1a" stroke-width="0.15" textLength="7.3" lengthAdjust="spacingAndGlyphs">E</text>
<line x1="148.3" y1="207.9" x2="156.5" y2="207.9" stroke="#555" stroke-width="0.9"/>
<line x1="156.5" y1="207.9" x2="159.8" y2="296.5" stroke="#1a1a1a" stroke-width="0.7"/>
<path d="M159.8 296.5L157.32 287.59L161.61 287.43Z" fill="#1a1a1a"/>
<text x="221.3" y="87.6" font-family="&quot;Liberation Sans&quot;, sans-serif" font-size="9.3" font-weight="normal" font-style="italic" fill="#1a1a1a" stroke="#1a1a1a" stroke-width="0.15" textLength="62" lengthAdjust="spacingAndGlyphs">Nakrętka&#160; M8 ; Nut</text>
<line x1="220.8" y1="89.5" x2="283.3" y2="89.5" stroke="#555" stroke-width="0.9"/>
<line x1="220.9" y1="89.5" x2="170.8" y2="244.5" stroke="#1a1a1a" stroke-width="0.7"/>
<path d="M170.8 244.5L171.52 235.27L175.61 236.6Z" fill="#1a1a1a"/>
<text x="230.8" y="106.4" font-family="&quot;Liberation Sans&quot;, sans-serif" font-size="9.3" font-weight="normal" font-style="italic" fill="#1a1a1a" stroke="#1a1a1a" stroke-width="0.15" textLength="110.7" lengthAdjust="spacingAndGlyphs">Podkł. spręż. 8,2 ; Spring Washer</text>
<line x1="230.5" y1="108.2" x2="341.5" y2="108.2" stroke="#555" stroke-width="0.9"/>
<line x1="230.8" y1="108.2" x2="190.2" y2="257.8" stroke="#1a1a1a" stroke-width="0.7"/>
<path d="M190.2 257.8L190.48 248.55L194.63 249.68Z" fill="#1a1a1a"/>
<text x="250" y="123.2" font-family="&quot;Liberation Sans&quot;, sans-serif" font-size="9.3" font-weight="normal" font-style="italic" fill="#1a1a1a" stroke="#1a1a1a" stroke-width="0.15" textLength="115.8" lengthAdjust="spacingAndGlyphs">Podkł. okr. pow. 8,5 ; Plain Washer</text>
<line x1="249.6" y1="125" x2="365.8" y2="125" stroke="#555" stroke-width="0.9"/>
<line x1="250" y1="125" x2="233.3" y2="281.2" stroke="#1a1a1a" stroke-width="0.7"/>
<path d="M233.3 281.2L232.12 272.02L236.39 272.48Z" fill="#1a1a1a"/>
<text x="220.8" y="47.6" font-family="&quot;Liberation Sans&quot;, sans-serif" font-size="9.3" font-weight="normal" font-style="italic" fill="#1a1a1a" stroke="#1a1a1a" stroke-width="0.15" textLength="114.2" lengthAdjust="spacingAndGlyphs">Podkł. okr. pow. 13 ; Plain Washer</text>
<line x1="220.3" y1="49.5" x2="335" y2="49.5" stroke="#555" stroke-width="0.9"/>
<line x1="335" y1="49.5" x2="453" y2="124.5" stroke="#1a1a1a" stroke-width="0.7"/>
<path d="M453 124.5L444.25 121.49L446.56 117.86Z" fill="#1a1a1a"/>
<text x="250.8" y="66.9" font-family="&quot;Liberation Sans&quot;, sans-serif" font-size="9.3" font-weight="normal" font-style="italic" fill="#1a1a1a" stroke="#1a1a1a" stroke-width="0.15" textLength="86.7" lengthAdjust="spacingAndGlyphs">Śruba M12x130-8.8 ;&#160; Bolt</text>
<line x1="250.3" y1="68.7" x2="337.5" y2="68.7" stroke="#555" stroke-width="0.9"/>
<line x1="337.5" y1="68.7" x2="412.6" y2="150.6" stroke="#1a1a1a" stroke-width="0.7"/>
<path d="M412.6 150.6L404.93 145.42L408.1 142.51Z" fill="#1a1a1a"/>
<text x="314.6" y="152.4" font-family="&quot;Liberation Sans&quot;, sans-serif" font-size="9.3" font-weight="normal" font-style="italic" fill="#1a1a1a" stroke="#1a1a1a" stroke-width="0.15" textLength="66.7" lengthAdjust="spacingAndGlyphs">Nakrętka&#160; M16 ; Nut</text>
<line x1="314.2" y1="154.2" x2="381.3" y2="154.2" stroke="#555" stroke-width="0.9"/>
<line x1="314.6" y1="154.2" x2="306.9" y2="208.4" stroke="#1a1a1a" stroke-width="0.7"/>
<path d="M306.9 208.4L306.04 199.19L310.29 199.79Z" fill="#1a1a1a"/>
<text x="331.7" y="169.7" font-family="&quot;Liberation Sans&quot;, sans-serif" font-size="9.3" font-weight="normal" font-style="italic" fill="#1a1a1a" stroke="#1a1a1a" stroke-width="0.15" textLength="113.5" lengthAdjust="spacingAndGlyphs">Podkł. spręż. 16,3; Spring Washer</text>
<line x1="331.3" y1="171.5" x2="445.2" y2="171.5" stroke="#555" stroke-width="0.9"/>
<line x1="331.7" y1="171.5" x2="326.5" y2="220" stroke="#1a1a1a" stroke-width="0.7"/>
<path d="M326.5 220L325.32 210.82L329.6 211.28Z" fill="#1a1a1a"/>
<text x="349.4" y="187.2" font-family="&quot;Liberation Sans&quot;, sans-serif" font-size="9.3" font-weight="normal" font-style="italic" fill="#1a1a1a" stroke="#1a1a1a" stroke-width="0.15" textLength="94.4" lengthAdjust="spacingAndGlyphs">Podkł. okr.17 ; Plain Washer</text>
<line x1="349" y1="189" x2="443.8" y2="189" stroke="#555" stroke-width="0.9"/>
<line x1="349.4" y1="189" x2="344.6" y2="231" stroke="#1a1a1a" stroke-width="0.7"/>
<path d="M344.6 231L343.49 221.81L347.76 222.3Z" fill="#1a1a1a"/>
<text x="266.5" y="250.6" font-family="&quot;Liberation Sans&quot;, sans-serif" font-size="10.8" font-weight="bold" font-style="italic" fill="#1a1a1a" stroke="#1a1a1a" stroke-width="0.15" textLength="19.5" lengthAdjust="spacingAndGlyphs">Pkt.3</text>
<line x1="265.6" y1="252.8" x2="285.6" y2="252.8" stroke="#555" stroke-width="0.9"/>
<line x1="265.6" y1="252.8" x2="230.5" y2="307.5" stroke="#1a1a1a" stroke-width="0.7"/>
<path d="M230.5 307.5L233.55 298.76L237.17 301.09Z" fill="#1a1a1a"/>
<line x1="265.6" y1="252.8" x2="242.3" y2="316.8" stroke="#1a1a1a" stroke-width="0.7"/>
<path d="M242.3 316.8L243.36 307.61L247.4 309.08Z" fill="#1a1a1a"/>
<line x1="265.6" y1="252.8" x2="257.2" y2="289.5" stroke="#1a1a1a" stroke-width="0.7"/>
<path d="M257.2 289.5L257.11 280.25L261.3 281.21Z" fill="#1a1a1a"/>
<text x="408.3" y="49" font-family="&quot;Liberation Sans&quot;, sans-serif" font-size="10.8" font-weight="bold" font-style="italic" fill="#1a1a1a" stroke="#1a1a1a" stroke-width="0.15" textLength="7" lengthAdjust="spacingAndGlyphs">E</text>
<line x1="407.7" y1="50.3" x2="416" y2="50.3" stroke="#555" stroke-width="0.9"/>
<line x1="414.5" y1="50.3" x2="480" y2="112" stroke="#1a1a1a" stroke-width="0.7"/>
<path d="M480 112L471.97 107.39L474.92 104.26Z" fill="#1a1a1a"/>
<text x="444" y="49" font-family="&quot;Liberation Sans&quot;, sans-serif" font-size="10.8" font-weight="bold" font-style="italic" fill="#1a1a1a" stroke="#1a1a1a" stroke-width="0.15" textLength="7.6" lengthAdjust="spacingAndGlyphs">D</text>
<line x1="443.5" y1="50.3" x2="452" y2="50.3" stroke="#555" stroke-width="0.9"/>
<line x1="451" y1="50.3" x2="495.8" y2="102.2" stroke="#1a1a1a" stroke-width="0.7"/>
<path d="M495.8 102.2L488.29 96.79L491.55 93.98Z" fill="#1a1a1a"/>
<text x="493.3" y="47.4" font-family="&quot;Liberation Sans&quot;, sans-serif" font-size="10.8" font-weight="bold" font-style="italic" fill="#1a1a1a" stroke="#1a1a1a" stroke-width="0.15" textLength="20" lengthAdjust="spacingAndGlyphs">Pkt.4</text>
<line x1="492.8" y1="49.5" x2="513.3" y2="49.5" stroke="#555" stroke-width="0.9"/>
<line x1="492.9" y1="49.5" x2="499.6" y2="100.2" stroke="#1a1a1a" stroke-width="0.7"/>
<path d="M499.6 100.2L496.29 91.56L500.55 91Z" fill="#1a1a1a"/>
<text x="537.8" y="49" font-family="&quot;Liberation Sans&quot;, sans-serif" font-size="10.8" font-weight="bold" font-style="italic" fill="#1a1a1a" stroke="#1a1a1a" stroke-width="0.15" textLength="8.2" lengthAdjust="spacingAndGlyphs">G</text>
<line x1="536.3" y1="50.5" x2="545" y2="50.5" stroke="#555" stroke-width="0.9"/>
<line x1="545" y1="50.5" x2="593.8" y2="88.5" stroke="#1a1a1a" stroke-width="0.7"/>
<path d="M593.8 88.5L585.38 84.67L588.02 81.27Z" fill="#1a1a1a"/>
<line x1="545" y1="50.5" x2="594.4" y2="110.3" stroke="#1a1a1a" stroke-width="0.7"/>
<path d="M594.4 110.3L587.01 104.73L590.33 101.99Z" fill="#1a1a1a"/>
<text x="566.9" y="49" font-family="&quot;Liberation Sans&quot;, sans-serif" font-size="10.8" font-weight="bold" font-style="italic" fill="#1a1a1a" stroke="#1a1a1a" stroke-width="0.15" textLength="6.9" lengthAdjust="spacingAndGlyphs">F</text>
<line x1="565.6" y1="50.5" x2="571.9" y2="50.5" stroke="#555" stroke-width="0.9"/>
<line x1="571.9" y1="50.5" x2="591.9" y2="68.5" stroke="#1a1a1a" stroke-width="0.7"/>
<path d="M591.9 68.5L583.77 64.08L586.65 60.88Z" fill="#1a1a1a"/>
<text x="557.5" y="98.3" font-family="&quot;Liberation Sans&quot;, sans-serif" font-size="10.8" font-weight="bold" font-style="italic" fill="#1a1a1a" stroke="#1a1a1a" stroke-width="0.15" textLength="8.1" lengthAdjust="spacingAndGlyphs">H</text>
<line x1="556.3" y1="100.5" x2="563.8" y2="100.5" stroke="#555" stroke-width="0.9"/>
<line x1="563.8" y1="100.5" x2="586.6" y2="134.6" stroke="#1a1a1a" stroke-width="0.7"/>
<path d="M586.6 134.6L579.81 128.31L583.38 125.92Z" fill="#1a1a1a"/>
<text x="619.3" y="26.4" font-family="&quot;Liberation Sans&quot;, sans-serif" font-size="9.3" font-weight="normal" font-style="italic" fill="#1a1a1a" stroke="#1a1a1a" stroke-width="0.15" textLength="120.4" lengthAdjust="spacingAndGlyphs">Podkł. okr. pow. 10,5 ; Plain Washer</text>
<line x1="618.8" y1="28.2" x2="739.7" y2="28.2" stroke="#555" stroke-width="0.9"/>
<line x1="619" y1="28.2" x2="621.4" y2="129" stroke="#1a1a1a" stroke-width="0.7"/>
<text x="641.7" y="47.3" font-family="&quot;Liberation Sans&quot;, sans-serif" font-size="9.3" font-weight="normal" font-style="italic" fill="#1a1a1a" stroke="#1a1a1a" stroke-width="0.15" textLength="115.3" lengthAdjust="spacingAndGlyphs">Podkł. spręż. 10,2 ; Spring Washer</text>
<line x1="641.3" y1="49.1" x2="757" y2="49.1" stroke="#555" stroke-width="0.9"/>
<line x1="641.5" y1="49.1" x2="635.6" y2="122.3" stroke="#1a1a1a" stroke-width="0.7"/>
<path d="M635.6 122.3L634.18 113.16L638.47 113.5Z" fill="#1a1a1a"/>
<text x="654.7" y="66.1" font-family="&quot;Liberation Sans&quot;, sans-serif" font-size="9.3" font-weight="normal" font-style="italic" fill="#1a1a1a" stroke="#1a1a1a" stroke-width="0.15" textLength="66.3" lengthAdjust="spacingAndGlyphs">Nakrętka&#160; M10 ; Nut</text>
<line x1="654.3" y1="67.9" x2="721" y2="67.9" stroke="#555" stroke-width="0.9"/>
<line x1="654.5" y1="67.9" x2="646.2" y2="115.4" stroke="#1a1a1a" stroke-width="0.7"/>
<path d="M646.2 115.4L645.63 106.16L649.87 106.9Z" fill="#1a1a1a"/>
<text x="690" y="160.8" font-family="&quot;Liberation Sans&quot;, sans-serif" font-size="10.8" font-weight="bold" font-style="italic" fill="#1a1a1a" stroke="#1a1a1a" stroke-width="0.15" textLength="19.5" lengthAdjust="spacingAndGlyphs">Pkt.2</text>
<line x1="687" y1="162.7" x2="710" y2="162.7" stroke="#555" stroke-width="0.9"/>
<line x1="687.3" y1="162.7" x2="612.4" y2="135.4" stroke="#1a1a1a" stroke-width="0.7"/>
<path d="M612.4 135.4L621.59 136.46L620.12 140.5Z" fill="#1a1a1a"/>
<text x="690" y="194" font-family="&quot;Liberation Sans&quot;, sans-serif" font-size="10.8" font-weight="bold" font-style="italic" fill="#1a1a1a" stroke="#1a1a1a" stroke-width="0.15" textLength="19.5" lengthAdjust="spacingAndGlyphs">Pkt.1</text>
<line x1="685" y1="196" x2="710" y2="196" stroke="#555" stroke-width="0.9"/>
<line x1="685" y1="196" x2="575.8" y2="167.6" stroke="#1a1a1a" stroke-width="0.7"/>
<path d="M575.8 167.6L585.05 167.78L583.97 171.95Z" fill="#1a1a1a"/>
<line x1="685" y1="196" x2="575.8" y2="180.6" stroke="#1a1a1a" stroke-width="0.7"/>
<path d="M575.8 180.6L585.01 179.73L584.41 183.99Z" fill="#1a1a1a"/>
<text x="566.3" y="229.5" font-family="&quot;Liberation Sans&quot;, sans-serif" font-size="10.8" font-weight="bold" font-style="italic" fill="#1a1a1a" stroke="#1a1a1a" stroke-width="0.15" textLength="19.9" lengthAdjust="spacingAndGlyphs">Pkt.3</text>
<line x1="564.5" y1="231.3" x2="586" y2="231.3" stroke="#555" stroke-width="0.9"/>
<line x1="564.8" y1="230.8" x2="498.8" y2="157.5" stroke="#1a1a1a" stroke-width="0.7"/>
<path d="M498.8 157.5L506.42 162.75L503.22 165.63Z" fill="#1a1a1a"/>
<line x1="564.8" y1="230.8" x2="513.1" y2="168.8" stroke="#1a1a1a" stroke-width="0.7"/>
<path d="M513.1 168.8L520.52 174.34L517.21 177.09Z" fill="#1a1a1a"/>
<line x1="564.8" y1="230.8" x2="526.3" y2="144.4" stroke="#1a1a1a" stroke-width="0.7"/>
<path d="M526.3 144.4L531.93 151.75L528 153.5Z" fill="#1a1a1a"/>
<text x="633.7" y="272.7" font-family="&quot;Liberation Sans&quot;, sans-serif" font-size="9.3" font-weight="normal" font-style="italic" fill="#1a1a1a" stroke="#1a1a1a" stroke-width="0.15" textLength="114.5" lengthAdjust="spacingAndGlyphs">Podkł. okr. pow. 13 ; Plain Washer</text>
<line x1="633" y1="275.1" x2="748.2" y2="275.1" stroke="#555" stroke-width="0.9"/>
<line x1="632.6" y1="275.1" x2="605.5" y2="242.6" stroke="#1a1a1a" stroke-width="0.7"/>
<path d="M605.5 242.6L612.92 248.14L609.61 250.89Z" fill="#1a1a1a"/>
<text x="633.7" y="295.7" font-family="&quot;Liberation Sans&quot;, sans-serif" font-size="9.3" font-weight="normal" font-style="italic" fill="#1a1a1a" stroke="#1a1a1a" stroke-width="0.15" textLength="115.1" lengthAdjust="spacingAndGlyphs">Podkł. spręż. 12,2 ; Spring Washer</text>
<line x1="632" y1="298.1" x2="748.8" y2="298.1" stroke="#555" stroke-width="0.9"/>
<line x1="631.8" y1="298.1" x2="606" y2="263.4" stroke="#1a1a1a" stroke-width="0.7"/>
<path d="M606 263.4L613.1 269.34L609.64 271.91Z" fill="#1a1a1a"/>
<text x="633.1" y="318.7" font-family="&quot;Liberation Sans&quot;, sans-serif" font-size="9.3" font-weight="normal" font-style="italic" fill="#1a1a1a" stroke="#1a1a1a" stroke-width="0.15" textLength="82.6" lengthAdjust="spacingAndGlyphs">Śruba M12x65-8.8 ;&#160; Bolt</text>
<line x1="632" y1="321.1" x2="715.7" y2="321.1" stroke="#555" stroke-width="0.9"/>
<line x1="631.8" y1="321.1" x2="602" y2="302.8" stroke="#1a1a1a" stroke-width="0.7"/>
<path d="M602 302.8L610.79 305.68L608.54 309.34Z" fill="#1a1a1a"/>
<text x="558.8" y="339.8" font-family="&quot;Liberation Sans&quot;, sans-serif" font-size="9.3" font-weight="normal" font-style="italic" fill="#1a1a1a" stroke="#1a1a1a" stroke-width="0.15" textLength="120.4" lengthAdjust="spacingAndGlyphs">Podkł. okr. pow. 10,5 ; Plain Washer</text>
<line x1="556.6" y1="342" x2="679.2" y2="342" stroke="#555" stroke-width="0.9"/>
<line x1="556.6" y1="342" x2="480.2" y2="225.4" stroke="#1a1a1a" stroke-width="0.7"/>
<path d="M480.2 225.4L486.93 231.75L483.33 234.11Z" fill="#1a1a1a"/>
<text x="556.6" y="360" font-family="&quot;Liberation Sans&quot;, sans-serif" font-size="9.3" font-weight="normal" font-style="italic" fill="#1a1a1a" stroke="#1a1a1a" stroke-width="0.15" textLength="82.5" lengthAdjust="spacingAndGlyphs">Śruba M10x35-8.8 ;&#160; Bolt</text>
<line x1="553.4" y1="362.5" x2="639.1" y2="362.5" stroke="#555" stroke-width="0.9"/>
<line x1="553.4" y1="362.5" x2="441.8" y2="241.8" stroke="#1a1a1a" stroke-width="0.7"/>
<path d="M441.8 241.8L449.49 246.95L446.33 249.87Z" fill="#1a1a1a"/>
<text x="500.3" y="386.6" font-family="&quot;Liberation Sans&quot;, sans-serif" font-size="9.3" font-weight="normal" font-style="italic" fill="#1a1a1a" stroke="#1a1a1a" stroke-width="0.15" textLength="82.2" lengthAdjust="spacingAndGlyphs">Śruba M16x45-8.8 ;&#160; Bolt</text>
<line x1="498.8" y1="388.7" x2="582.5" y2="388.7" stroke="#555" stroke-width="0.9"/>
<line x1="498.8" y1="388.7" x2="461.9" y2="330" stroke="#1a1a1a" stroke-width="0.7"/>
<path d="M461.9 330L468.51 336.48L464.87 338.76Z" fill="#1a1a1a"/>
<text x="392.5" y="387.3" font-family="&quot;Liberation Sans&quot;, sans-serif" font-size="9.3" font-weight="normal" font-style="italic" fill="#1a1a1a" stroke="#1a1a1a" stroke-width="0.15" textLength="78.1" lengthAdjust="spacingAndGlyphs">Śruba M8x25-8.8 ;&#160; Bolt</text>
<line x1="391" y1="389.5" x2="470.6" y2="389.5" stroke="#555" stroke-width="0.9"/>
<line x1="391" y1="389.5" x2="343.5" y2="351.4" stroke="#1a1a1a" stroke-width="0.7"/>
<path d="M343.5 351.4L351.87 355.35L349.18 358.71Z" fill="#1a1a1a"/>
<text x="396.3" y="407" font-family="&quot;Liberation Sans&quot;, sans-serif" font-size="9.3" font-weight="normal" font-style="italic" fill="#1a1a1a" stroke="#1a1a1a" stroke-width="0.15" textLength="116.5" lengthAdjust="spacingAndGlyphs">Podkł. okr. pow. 8,5 ; Plain Washer</text>
<line x1="395" y1="408.7" x2="512.8" y2="408.7" stroke="#555" stroke-width="0.9"/>
<line x1="395" y1="408.7" x2="304" y2="329.3" stroke="#1a1a1a" stroke-width="0.7"/>
<path d="M304 329.3L312.2 333.6L309.37 336.84Z" fill="#1a1a1a"/>
<text x="386.3" y="340.2" font-family="&quot;Liberation Sans&quot;, sans-serif" font-size="10.8" font-weight="bold" font-style="italic" fill="#1a1a1a" stroke="#1a1a1a" stroke-width="0.15" textLength="7.7" lengthAdjust="spacingAndGlyphs">B</text>
<line x1="384.7" y1="342.3" x2="395" y2="342.3" stroke="#555" stroke-width="0.9"/>
<line x1="394" y1="342.3" x2="420" y2="312.8" stroke="#1a1a1a" stroke-width="0.7"/>
<path d="M420 312.8L415.66 320.97L412.44 318.13Z" fill="#1a1a1a"/>
<text x="333.6" y="320.3" font-family="&quot;Liberation Sans&quot;, sans-serif" font-size="10.8" font-weight="bold" font-style="italic" fill="#1a1a1a" stroke="#1a1a1a" stroke-width="0.15" textLength="8.7" lengthAdjust="spacingAndGlyphs">A</text>
<line x1="332.9" y1="321.9" x2="343.4" y2="321.9" stroke="#555" stroke-width="0.9"/>
<line x1="343.4" y1="321.9" x2="375" y2="285.5" stroke="#1a1a1a" stroke-width="0.7"/>
<text x="306" y="405.8" font-family="&quot;Liberation Sans&quot;, sans-serif" font-size="9.3" font-weight="normal" font-style="italic" fill="#1a1a1a" stroke="#1a1a1a" stroke-width="0.15" textLength="65.9" lengthAdjust="spacingAndGlyphs">Nakrętka&#160; M12 ; Nut</text>
<line x1="303.8" y1="407.4" x2="371.9" y2="407.4" stroke="#555" stroke-width="0.9"/>
<line x1="303.8" y1="407.3" x2="268" y2="355.6" stroke="#1a1a1a" stroke-width="0.7"/>
<path d="M268 355.6L274.89 361.78L271.36 364.22Z" fill="#1a1a1a"/>
<text x="293.1" y="427.9" font-family="&quot;Liberation Sans&quot;, sans-serif" font-size="9.3" font-weight="normal" font-style="italic" fill="#1a1a1a" stroke="#1a1a1a" stroke-width="0.15" textLength="115.5" lengthAdjust="spacingAndGlyphs">Podkł. spręż. 12,2 ; Spring Washer</text>
<line x1="291.3" y1="429.7" x2="408.6" y2="429.7" stroke="#555" stroke-width="0.9"/>
<line x1="291.3" y1="429.7" x2="253.5" y2="363.8" stroke="#1a1a1a" stroke-width="0.7"/>
<path d="M253.5 363.8L259.84 370.54L256.11 372.68Z" fill="#1a1a1a"/>
<text x="249.3" y="441.8" font-family="&quot;Liberation Sans&quot;, sans-serif" font-size="10.8" font-weight="bold" font-style="italic" fill="#1a1a1a" stroke="#1a1a1a" stroke-width="0.15" textLength="18" lengthAdjust="spacingAndGlyphs">Pkt.1</text>
<line x1="247.5" y1="443.7" x2="267.3" y2="443.7" stroke="#555" stroke-width="0.9"/>
<line x1="247.5" y1="443.7" x2="224.9" y2="385" stroke="#1a1a1a" stroke-width="0.7"/>
<path d="M224.9 385L230.14 392.63L226.13 394.17Z" fill="#1a1a1a"/>
<line x1="247.5" y1="443.7" x2="224.9" y2="370.5" stroke="#1a1a1a" stroke-width="0.7"/>
<path d="M224.9 370.5L229.61 378.47L225.5 379.73Z" fill="#1a1a1a"/>
<text x="275" y="450" font-family="&quot;Liberation Sans&quot;, sans-serif" font-size="9.3" font-weight="normal" font-style="italic" fill="#1a1a1a" stroke="#1a1a1a" stroke-width="0.15" textLength="96.9" lengthAdjust="spacingAndGlyphs">Podkł. okr. 13 ; Plain Washer</text>
<line x1="272.5" y1="451.9" x2="371.9" y2="451.9" stroke="#555" stroke-width="0.9"/>
<line x1="272.5" y1="451.9" x2="243.8" y2="375" stroke="#1a1a1a" stroke-width="0.7"/>
<path d="M243.8 375L248.96 382.68L244.93 384.18Z" fill="#1a1a1a"/>
<text x="231.5" y="477.6" font-family="&quot;Liberation Sans&quot;, sans-serif" font-size="9.3" font-weight="normal" font-style="italic" fill="#1a1a1a" stroke="#1a1a1a" stroke-width="0.15" textLength="83.1" lengthAdjust="spacingAndGlyphs">Śruba M12x40-8.8 ;&#160; Bolt</text>
<line x1="230" y1="479.6" x2="314.6" y2="479.6" stroke="#555" stroke-width="0.9"/>
<line x1="230" y1="479.6" x2="185" y2="406" stroke="#1a1a1a" stroke-width="0.7"/>
<path d="M185 406L191.53 412.56L187.86 414.8Z" fill="#1a1a1a"/>
<line x1="230" y1="479.6" x2="170.2" y2="444.3" stroke="#1a1a1a" stroke-width="0.7"/>
<path d="M170.2 444.3L179.04 447.02L176.86 450.73Z" fill="#1a1a1a"/>
<text x="78.8" y="357.3" font-family="&quot;Liberation Sans&quot;, sans-serif" font-size="10.8" font-weight="bold" font-style="italic" fill="#1a1a1a" stroke="#1a1a1a" stroke-width="0.15" textLength="3.7" lengthAdjust="spacingAndGlyphs">I</text>
<line x1="77.5" y1="359.2" x2="83" y2="359.2" stroke="#555" stroke-width="0.9"/>
<line x1="80" y1="359.2" x2="157.5" y2="378" stroke="#1a1a1a" stroke-width="0.7"/>
<path d="M157.5 378L148.25 377.97L149.26 373.79Z" fill="#1a1a1a"/>
<text x="117" y="357.3" font-family="&quot;Liberation Sans&quot;, sans-serif" font-size="10.8" font-weight="bold" font-style="italic" fill="#1a1a1a" stroke="#1a1a1a" stroke-width="0.15" textLength="7.3" lengthAdjust="spacingAndGlyphs">F</text>
<line x1="116.3" y1="359.7" x2="125" y2="359.7" stroke="#555" stroke-width="0.9"/>
<line x1="125" y1="359.7" x2="154.8" y2="351" stroke="#1a1a1a" stroke-width="0.7"/>
<path d="M154.8 351L146.76 355.59L145.56 351.46Z" fill="#1a1a1a"/>
<text x="57.5" y="380.6" font-family="&quot;Liberation Sans&quot;, sans-serif" font-size="10.8" font-weight="bold" font-style="italic" fill="#1a1a1a" stroke="#1a1a1a" stroke-width="0.15" textLength="18.8" lengthAdjust="spacingAndGlyphs">Pkt.2</text>
<line x1="56.5" y1="383" x2="76.3" y2="383" stroke="#555" stroke-width="0.9"/>
<line x1="76.3" y1="383" x2="159" y2="383" stroke="#1a1a1a" stroke-width="0.7"/>
<path d="M159 383L150 385.15L150 380.85Z" fill="#1a1a1a"/>
<text x="14.5" y="407.5" font-family="&quot;Liberation Sans&quot;, sans-serif" font-size="9.3" font-weight="normal" font-style="italic" fill="#1a1a1a" stroke="#1a1a1a" stroke-width="0.15" textLength="83" lengthAdjust="spacingAndGlyphs">Śruba M12x40-8.8 ;&#160; Bolt</text>
<line x1="14" y1="409.2" x2="97.5" y2="409.2" stroke="#555" stroke-width="0.9"/>
<line x1="97.5" y1="409.2" x2="117.5" y2="423.5" stroke="#1a1a1a" stroke-width="0.7"/>
<path d="M117.5 423.5L108.93 420.01L111.43 416.52Z" fill="#1a1a1a"/>
<text x="12.5" y="458" font-family="&quot;Liberation Sans&quot;, sans-serif" font-size="9.3" font-weight="normal" font-style="italic" fill="#1a1a1a" stroke="#1a1a1a" stroke-width="0.15" textLength="116.3" lengthAdjust="spacingAndGlyphs">Podkł. spręż. 12,2 ; Spring Washer</text>
<line x1="12" y1="459.7" x2="128.8" y2="459.7" stroke="#555" stroke-width="0.9"/>
<line x1="128.8" y1="459.7" x2="140.2" y2="417.8" stroke="#1a1a1a" stroke-width="0.7"/>
<path d="M140.2 417.8L139.91 427.05L135.76 425.92Z" fill="#1a1a1a"/>
<text x="31.3" y="479.3" font-family="&quot;Liberation Sans&quot;, sans-serif" font-size="9.3" font-weight="normal" font-style="italic" fill="#1a1a1a" stroke="#1a1a1a" stroke-width="0.15" textLength="97.5" lengthAdjust="spacingAndGlyphs">Podkł. okr. 13 ; Plain Washer</text>
<line x1="30.8" y1="481" x2="128.8" y2="481" stroke="#555" stroke-width="0.9"/>
<line x1="128.8" y1="481" x2="151.8" y2="408.3" stroke="#1a1a1a" stroke-width="0.7"/>
<path d="M151.8 408.3L151.14 417.53L147.04 416.23Z" fill="#1a1a1a"/>
<text x="289.1" y="502.3" font-family="&quot;Liberation Sans&quot;, sans-serif" font-size="7" font-weight="normal" font-style="italic" fill="#1a1a1a" stroke="#1a1a1a" stroke-width="0.15" textLength="38.4" lengthAdjust="spacingAndGlyphs">Nr katalogowy</text>
<text x="286.9" y="516.3" font-family="&quot;Liberation Sans&quot;, sans-serif" font-size="11" font-weight="bold" font-style="italic" fill="#1a1a1a" stroke="#1a1a1a" stroke-width="0.15" textLength="27.6" lengthAdjust="spacingAndGlyphs">C/018</text>
<text x="355.1" y="502.3" font-family="&quot;Liberation Sans&quot;, sans-serif" font-size="8" font-weight="bold" font-style="italic" fill="#1a1a1a" stroke="#1a1a1a" stroke-width="0.15" textLength="21.5" lengthAdjust="spacingAndGlyphs">Marka</text>
<text x="453.2" y="502" font-family="&quot;Liberation Sans&quot;, sans-serif" font-size="10" font-weight="bold" font-style="italic" fill="#1a1a1a" stroke="#1a1a1a" stroke-width="0.15" textLength="49.1" lengthAdjust="spacingAndGlyphs">Fiat Ducato</text>
<text x="355" y="516.5" font-family="&quot;Liberation Sans&quot;, sans-serif" font-size="10" font-weight="bold" font-style="italic" fill="#1a1a1a" stroke="#1a1a1a" stroke-width="0.15" textLength="145.6" lengthAdjust="spacingAndGlyphs">Citroen Jumper, Peugeot Boxer III</text>
<text x="543.6" y="502" font-family="&quot;Liberation Sans&quot;, sans-serif" font-size="10" font-weight="bold" font-style="italic" fill="#1a1a1a" stroke="#1a1a1a" stroke-width="0.15" textLength="46.8" lengthAdjust="spacingAndGlyphs">od 07/06 -&gt;</text>
<text x="545" y="516.5" font-family="&quot;Liberation Sans&quot;, sans-serif" font-size="10" font-weight="bold" font-style="italic" fill="#1a1a1a" stroke="#1a1a1a" stroke-width="0.15" textLength="43.7" lengthAdjust="spacingAndGlyphs">od 2006 -&gt;</text>
<defs><radialGradient id="bg" cx="0.4" cy="0.35" r="0.7"><stop offset="0" stop-color="#8a8b8e"/><stop offset="1" stop-color="#4d4e50"/></radialGradient><linearGradient id="sg" x1="0" x2="1" y1="0" y2="0"><stop offset="0" stop-color="#58595b"/><stop offset="1" stop-color="#9a9b9d"/></linearGradient></defs>
<path d="M617.8 480 L618.2 490.5 Q619 497.8 627 498 C655 497 680 489.5 741.5 487.2 C700 487.6 660 488.6 640 489.6 Q630.5 490.2 627.5 489 Q626.3 488 626.3 485 L626.4 480 Z" fill="url(#sg)"/>
<circle cx="621.8" cy="475.5" r="6.5" fill="url(#bg)"/>
<g transform="translate(0,489.2) skewX(-14) translate(0,-489.2)">
<text x="636" y="488.6" font-family="&quot;Liberation Sans&quot;, sans-serif" font-size="25" font-weight="bold" font-style="italic" fill="#e2411b" stroke="#e2411b" stroke-width="1.2" textLength="98" lengthAdjust="spacingAndGlyphs">IMIOŁA</text>
</g>
<text x="694.8" y="494.6" font-family="&quot;Liberation Sans&quot;, sans-serif" font-size="6.4" font-weight="normal" font-style="normal" fill="#58595b" stroke="#58595b" stroke-width="0" textLength="39.2" lengthAdjust="spacingAndGlyphs">HAKPOL</text>
<text x="615" y="509.7" font-family="&quot;Liberation Serif&quot;, serif" font-size="7.4" font-weight="bold" font-style="normal" fill="#1a1a1a" stroke="#1a1a1a" stroke-width="0" textLength="97.5" lengthAdjust="spacingAndGlyphs">96-111 Kowiesy, Chojnata 23 A</text>
<text x="615" y="516.4" font-family="&quot;Liberation Serif&quot;, serif" font-size="6.8" font-weight="normal" font-style="normal" fill="#222" stroke="#222" stroke-width="0.1" textLength="54.2" lengthAdjust="spacingAndGlyphs">tel. +48 46 831 73 31</text>
</svg>
</body></html>
